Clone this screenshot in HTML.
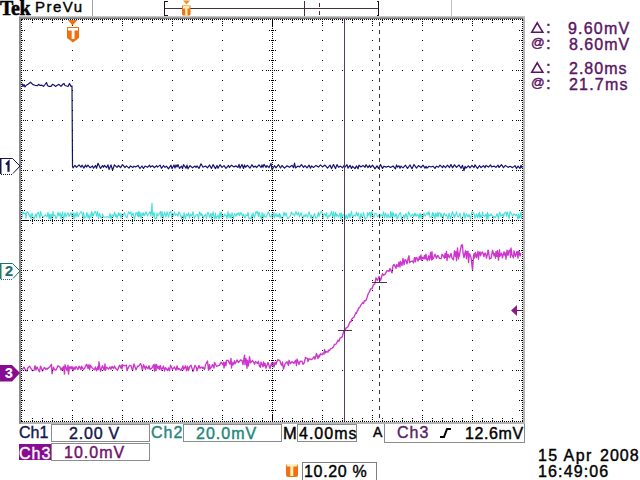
<!DOCTYPE html>
<html><head><meta charset="utf-8"><style>
*{margin:0;padding:0;box-sizing:border-box}
html,body{width:640px;height:480px;background:#fff;overflow:hidden}
body{position:relative;font-family:"Liberation Sans",sans-serif}
svg{position:absolute;left:0;top:0}
.t{position:absolute;white-space:pre;line-height:1;font-weight:normal;-webkit-text-stroke-width:0.4px}
.bx{position:absolute;border:1px solid #909090}
</style></head><body>
<svg width="640" height="480" viewBox="0 0 640 480" shape-rendering="crispEdges">
<defs>
<linearGradient id="gt" x1="0" y1="0" x2="0" y2="1"><stop offset="0" stop-color="#d8d8d8"/><stop offset="1" stop-color="#686868"/></linearGradient>
</defs>
<rect x="19" y="16" width="506" height="3" fill="url(#gt)"/>
<rect x="19" y="17" width="2" height="407" fill="#8c8c8c"/>
<rect x="523" y="17" width="2" height="406" fill="#b4b4b4"/>
<rect x="21" y="422" width="504" height="2" fill="#b4b4b4"/>
<g shape-rendering="auto" fill="none" stroke-linejoin="round">
<polyline points="22.0,218.0 22.5,212.0 23.5,212.7 24.0,213.7 25.5,213.1 26.0,218.4 27.0,211.7 28.0,212.3 29.5,216.2 30.0,214.3 31.0,218.9 32.0,213.1 33.0,216.4 34.0,219.3 35.0,215.8 36.0,214.1 36.5,217.9 37.0,214.0 38.5,212.5 40.0,218.3 40.5,211.6 42.0,215.8 43.0,217.1 44.5,215.9 45.5,214.7 47.0,217.0 48.0,212.2 49.0,218.9 49.5,214.3 50.5,219.1 51.0,213.9 52.0,218.7 53.0,211.4 53.5,216.0 55.0,215.0 56.0,218.8 57.5,214.6 58.0,212.1 59.0,216.2 60.0,212.8 60.5,214.5 61.0,218.8 62.5,211.7 63.5,219.3 65.0,212.6 66.0,216.8 67.0,214.7 68.0,212.8 69.0,216.4 70.0,214.9 71.0,212.5 72.0,217.0 73.0,212.0 74.0,219.2 75.0,213.0 76.0,216.9 77.0,212.1 78.0,217.0 79.5,213.8 81.0,211.5 82.0,213.1 83.0,219.2 83.5,212.4 84.5,218.0 86.0,216.8 87.0,212.4 88.0,217.9 89.0,214.3 89.5,219.3 90.5,215.9 91.5,211.5 92.0,217.2 92.5,212.9 93.5,215.7 94.5,211.9 95.5,211.5 96.5,216.1 97.5,211.6 98.5,218.7 99.5,213.4 101.0,217.8 102.0,218.0 102.5,213.7 103.5,216.9 105.0,217.3 106.5,216.8 108.0,217.1 109.0,217.9 110.0,213.3 111.0,219.2 112.0,214.6 113.5,216.6 114.5,212.0 115.5,216.6 116.0,214.2 117.0,218.4 118.5,212.9 119.0,215.8 120.0,213.1 121.0,218.4 122.0,213.8 123.0,215.8 124.5,212.6 125.5,215.8 127.0,217.9 128.5,211.9 130.0,213.7 131.0,211.8 131.5,216.8 133.0,212.9 134.5,219.1 136.0,212.5 137.0,213.1 137.5,216.0 138.0,212.2 138.5,216.9 139.0,211.4 139.5,216.2 140.0,212.5 141.0,218.3 142.0,212.8 143.0,215.9 143.5,212.7 144.5,215.9 146.0,211.8 147.5,216.0 149.0,213.3 150.0,211.7 151.0,216.3 152.0,203.0 152.5,214.0 152.0,211.7 152.0,203.0 152.5,214.0 153.0,216.7 154.0,212.0 155.0,218.7 156.5,218.4 157.0,212.7 157.5,216.0 159.0,214.2 160.5,211.5 161.0,217.7 162.0,211.6 163.0,218.5 164.5,212.1 166.0,217.0 167.0,211.7 168.5,217.1 169.5,212.7 171.0,211.5 171.5,217.9 172.5,213.6 173.0,216.4 174.5,211.8 175.5,215.7 177.0,213.9 178.0,216.3 179.0,211.9 180.5,214.5 181.5,218.7 182.5,215.8 183.5,219.1 184.0,212.6 185.5,218.8 186.5,214.0 187.5,215.8 188.5,212.7 189.5,218.2 190.5,214.1 192.0,216.3 193.0,211.6 194.5,218.4 196.0,214.9 197.5,214.5 198.5,219.2 199.5,211.8 201.0,215.9 201.5,213.3 202.0,214.2 203.0,218.1 204.0,216.4 205.5,214.4 206.5,218.6 207.5,212.9 208.5,212.8 209.5,217.5 211.0,213.2 211.5,219.1 213.0,211.8 213.5,214.6 214.5,218.7 215.5,213.1 216.0,218.7 217.0,216.7 218.0,214.9 219.0,219.0 219.5,217.3 220.0,211.8 221.0,217.8 221.5,212.4 222.5,216.1 223.5,216.9 224.5,214.1 225.5,215.8 226.0,215.0 227.0,218.8 228.0,211.6 229.0,217.7 230.0,213.9 231.0,218.4 232.0,212.8 233.5,218.6 234.5,213.5 236.0,216.3 237.0,213.1 237.5,214.7 239.0,212.6 239.5,215.8 241.0,212.5 242.5,216.5 243.5,214.0 244.5,217.1 245.0,218.0 246.0,214.6 247.5,215.8 248.0,212.3 249.0,218.6 250.5,218.2 251.0,218.7 251.5,214.7 252.5,218.7 253.0,212.8 254.5,217.7 256.0,211.5 256.5,213.1 257.5,211.6 258.5,216.8 259.0,212.2 260.5,216.8 261.5,219.1 262.0,212.3 263.0,219.0 264.0,213.3 264.5,216.6 266.0,217.2 267.5,213.7 268.5,211.7 270.0,216.9 271.0,216.6 272.0,214.0 272.5,219.0 274.0,212.3 274.5,217.8 276.0,213.6 277.0,216.8 278.0,214.4 278.5,216.8 279.5,213.5 280.0,218.1 280.5,214.9 281.0,216.9 282.5,219.1 284.0,212.0 285.0,216.1 286.0,212.8 287.5,218.4 288.5,218.3 289.0,217.1 290.0,216.5 291.5,211.8 292.0,214.2 293.5,213.7 294.5,216.2 296.0,211.5 296.5,213.3 297.5,215.0 298.5,212.3 299.5,217.1 301.0,212.7 301.5,213.0 302.5,219.2 304.0,214.9 305.0,216.7 306.0,214.1 307.5,217.3 309.0,211.9 310.5,217.0 311.0,218.7 311.5,215.0 313.0,218.9 314.0,214.4 314.5,213.4 315.5,217.9 317.0,217.6 318.5,212.2 319.0,216.5 320.5,212.1 322.0,211.7 323.0,219.0 324.0,213.5 325.0,214.3 326.0,216.2 326.5,212.6 327.5,218.5 329.0,215.0 330.0,216.4 331.5,211.5 332.5,217.4 333.5,211.6 334.5,218.7 335.5,212.3 336.5,216.3 337.0,214.1 338.5,217.1 340.0,213.1 341.0,219.3 341.5,213.1 342.5,216.6 343.0,215.1 344.5,214.2 345.5,218.6 346.5,215.0 347.5,218.6 349.0,213.4 350.0,217.8 351.5,211.4 352.5,217.9 354.0,214.9 355.5,216.1 356.5,212.0 357.5,215.9 358.5,213.0 359.0,216.1 360.0,219.3 361.0,213.3 361.5,216.7 362.5,217.1 363.5,212.5 365.0,219.1 366.0,217.8 367.0,217.8 367.5,212.5 368.0,215.8 369.5,212.4 370.5,217.7 371.0,212.4 371.5,215.9 372.0,211.6 373.0,216.1 374.0,217.4 375.0,213.2 376.5,213.7 377.5,216.9 379.0,214.8 379.5,218.1 381.0,214.5 382.5,216.3 383.5,211.7 384.5,217.8 385.5,213.0 387.0,217.7 388.0,214.0 389.0,217.3 390.0,217.5 390.5,211.6 391.0,216.9 392.0,212.0 392.5,218.6 393.5,212.7 394.5,216.1 395.0,216.9 396.0,213.6 396.5,214.9 397.0,219.2 398.5,216.1 399.5,213.5 400.5,212.7 401.5,219.2 403.0,217.1 404.0,214.7 404.5,218.1 406.0,213.5 407.5,219.3 408.5,211.8 409.5,213.7 410.5,216.9 411.0,216.2 412.5,214.0 413.5,216.8 414.5,213.4 415.0,216.2 415.5,213.5 416.5,216.3 418.0,214.1 419.0,218.7 420.0,213.0 421.0,218.3 421.5,214.3 423.0,218.1 424.0,212.9 425.0,216.2 426.5,213.7 427.5,212.7 428.0,215.1 429.0,211.5 430.0,217.3 431.5,217.0 432.5,212.5 433.0,216.3 433.5,213.1 435.0,218.8 435.5,213.3 436.5,216.3 437.5,212.6 438.0,217.1 439.0,212.7 440.0,212.7 441.0,217.3 441.5,213.7 443.0,218.6 444.0,213.1 445.5,215.9 446.5,214.7 448.0,219.0 449.0,213.2 450.5,218.8 451.5,215.0 452.5,211.5 453.5,216.1 454.0,214.5 454.5,217.3 456.0,213.7 456.5,211.8 457.5,216.2 458.5,217.2 460.0,213.2 461.0,218.5 462.5,218.6 464.0,212.4 465.0,218.3 465.5,216.4 466.5,213.7 468.0,217.0 469.0,214.4 470.5,219.2 472.0,211.6 473.0,212.4 474.5,214.5 475.0,218.4 476.5,214.1 477.5,217.9 478.5,213.6 479.0,216.5 479.5,212.2 480.0,218.2 480.5,214.8 481.5,216.9 482.0,216.8 482.5,211.7 483.0,214.9 484.5,216.5 486.0,214.1 486.5,219.3 487.5,212.0 488.0,219.1 488.5,214.5 490.0,216.0 491.0,213.8 492.0,216.1 493.0,215.8 493.5,217.9 494.5,216.7 495.5,217.6 497.0,213.6 498.5,219.2 499.0,213.5 500.0,212.2 500.5,216.3 501.5,214.9 502.0,215.9 503.0,214.0 503.5,217.3 504.5,213.1 506.0,212.0 506.5,216.4 507.5,212.0 509.0,219.0 510.0,211.6 511.5,213.6 512.5,216.2 514.0,213.8 515.5,215.7 516.5,214.2 518.0,219.1 518.5,214.0 519.5,218.1 521.0,211.9 521.5,219.0" stroke="#48e0dc" stroke-width="1.1"/>
<polyline points="22.0,83.5 23.0,86.5 24.0,84.5 25.0,87.0 26.0,85.5 28.0,84.3 30.5,82.2 33.0,84.6 35.0,85.3 37.5,85.7 38.5,84.3 40.0,85.4 42.0,85.2 43.5,86.4 45.0,84.5 46.5,82.5 47.5,85.5 49.0,86.4 51.0,86.4 52.5,84.3 54.0,85.0 55.5,86.4 57.3,85.2 59.0,84.3 61.0,86.4 63.0,84.0 64.0,83.5 65.0,85.5 66.5,86.0 68.0,86.4 69.5,83.5 71.0,86.4 72.0,86.0 72.5,166.0 73.0,167.8 75.0,165.4 76.5,167.3 79.0,164.8 81.0,167.2 82.0,165.2 84.0,168.1 85.5,165.1 86.5,167.0 88.0,165.2 90.0,167.7 92.5,165.9 93.5,168.2 95.5,165.5 96.5,168.2 98.0,163.3 100.5,168.4 102.5,165.6 103.5,167.3 104.5,165.4 106.5,167.7 108.0,164.8 109.0,169.5 111.0,164.9 112.5,170.2 114.5,164.8 117.0,167.3 118.5,165.5 120.5,167.7 122.5,164.7 125.0,167.5 126.5,165.9 129.0,168.1 130.5,165.9 133.0,167.5 134.0,166.2 135.5,166.9 138.0,165.4 140.0,168.5 142.0,166.0 143.5,168.5 145.0,166.0 147.5,167.3 149.5,165.2 150.5,167.1 152.5,165.8 154.5,167.7 156.5,165.7 157.5,167.1 160.0,165.1 161.5,168.3 163.5,165.5 165.0,167.4 166.5,166.1 168.5,168.8 171.0,165.2 172.0,168.7 174.0,165.0 175.0,168.0 176.0,164.9 177.0,167.0 178.0,164.6 179.5,168.4 181.5,166.1 182.5,168.6 183.5,164.7 186.0,168.2 187.0,165.1 188.0,168.8 190.0,165.6 192.5,167.8 195.0,166.1 196.0,167.5 197.0,165.9 199.0,168.4 201.0,163.8 203.0,167.2 205.5,166.0 207.5,167.8 209.5,165.0 211.5,168.4 213.0,164.6 215.5,168.6 217.0,165.4 218.0,168.3 220.0,164.7 222.0,167.4 224.0,165.6 226.0,168.3 228.5,165.4 229.5,167.4 231.5,165.2 234.0,166.9 236.0,165.9 238.0,167.4 239.0,164.4 240.0,168.1 242.0,164.5 243.5,168.5 244.5,164.9 245.5,167.2 247.5,165.3 250.0,168.1 252.0,164.7 253.5,167.1 255.5,166.1 256.5,167.6 259.0,164.8 261.0,167.5 262.0,164.9 263.0,167.3 264.0,164.4 266.0,167.4 267.0,165.6 269.0,167.5 271.0,163.4 272.0,169.7 274.5,165.7 276.0,167.8 278.5,164.7 280.5,168.0 282.0,165.5 284.5,168.1 287.0,165.8 289.5,167.3 292.0,165.3 293.5,167.7 294.5,163.2 295.5,167.9 298.0,166.1 299.5,167.0 301.5,164.6 303.5,167.4 305.0,165.7 307.0,167.9 309.0,165.1 310.5,168.2 311.5,165.9 313.5,167.5 316.0,165.4 318.5,167.1 320.5,164.9 322.5,166.9 325.0,165.1 327.5,168.1 330.0,165.1 331.5,168.6 333.5,164.6 335.5,168.6 337.0,164.6 338.5,167.2 340.5,166.1 342.5,167.9 344.0,165.5 345.0,167.1 347.0,164.6 348.0,168.2 350.0,165.3 351.5,168.4 352.5,166.2 355.0,168.6 356.5,165.9 358.0,168.8 359.0,165.2 361.0,167.0 363.0,165.4 365.0,167.3 366.0,164.7 368.0,167.6 369.5,165.2 370.5,167.5 372.5,165.2 375.0,168.8 377.0,165.8 378.5,168.4 380.5,164.6 382.5,168.4 384.0,166.2 386.0,167.1 388.5,166.2 390.5,167.5 393.0,166.0 395.5,168.8 396.5,164.9 397.5,167.1 399.0,165.8 400.0,168.3 401.0,166.1 403.0,167.9 405.5,165.2 407.5,168.4 410.0,165.0 412.0,168.7 414.0,164.5 416.5,168.1 418.5,165.5 421.0,167.5 423.0,165.1 425.0,168.2 426.0,166.3 427.0,168.1 429.0,166.2 431.0,167.0 433.0,166.2 435.0,168.3 436.5,166.2 438.5,167.2 440.0,165.2 442.5,167.7 443.5,165.6 445.5,167.7 447.5,165.2 449.5,167.6 451.0,164.5 452.5,167.8 454.5,164.8 456.5,167.4 459.0,165.0 461.0,168.3 462.5,165.3 464.0,170.6 465.0,166.3 466.0,168.1 468.5,165.8 470.0,167.9 472.0,165.4 474.0,167.6 475.0,164.8 477.5,168.5 479.5,165.5 481.0,167.6 483.5,165.7 485.0,167.7 486.0,165.4 488.5,167.1 490.5,164.8 491.5,167.0 494.0,166.1 496.0,167.4 498.0,165.1 499.0,167.5 501.5,164.6 503.5,167.7 505.5,165.4 508.0,167.4 510.0,166.3 512.5,167.6 515.0,165.6 516.5,168.5 518.0,166.1 520.0,168.4 521.0,165.3 522.0,168.1" stroke="#141470" stroke-width="1.2"/>
<polyline points="22.0,370.1 24.0,367.1 25.5,370.1 27.0,371.0 28.0,367.8 29.5,366.1 31.5,369.3 32.5,370.7 34.0,370.4 35.0,365.6 36.0,370.0 37.0,367.0 39.0,371.0 39.5,371.8 40.5,366.1 42.5,370.9 44.5,367.4 46.0,369.2 47.0,368.2 47.5,369.1 49.5,367.1 51.5,364.4 52.0,373.8 53.5,367.2 54.5,369.8 56.0,370.0 58.0,365.8 60.0,367.1 61.0,370.1 62.0,367.9 62.5,369.9 63.5,366.4 64.5,374.0 65.0,364.8 67.0,370.5 68.0,365.1 68.5,374.1 69.5,366.8 70.5,366.8 71.0,368.9 72.0,366.4 73.0,370.9 74.0,367.0 75.0,369.5 76.0,366.6 78.0,369.5 79.0,366.2 81.0,369.7 81.5,366.1 83.5,369.7 84.5,368.4 86.5,364.4 87.0,364.8 88.0,368.4 89.0,364.6 89.5,369.8 90.5,365.3 92.5,368.5 94.5,369.7 95.5,367.0 96.5,370.7 97.0,369.7 98.0,366.5 98.5,369.6 99.0,361.8 100.5,371.2 102.5,365.7 104.0,370.1 105.0,364.0 105.5,370.3 106.5,367.1 108.5,369.1 110.0,367.0 111.0,369.2 112.0,366.4 113.5,368.5 114.5,365.9 115.5,368.2 117.5,370.3 119.5,365.3 121.0,368.1 121.5,365.1 122.0,368.8 122.5,364.8 124.5,365.9 126.5,365.2 127.0,370.6 129.0,366.2 130.0,365.3 131.0,365.6 132.5,370.6 134.0,364.0 136.0,369.9 137.5,366.2 138.5,366.4 140.5,363.6 141.5,365.8 142.5,370.5 143.5,364.6 145.5,369.5 146.0,366.1 148.0,368.9 149.0,365.7 150.0,369.4 152.0,368.0 153.5,364.8 154.5,371.0 155.0,364.3 156.0,370.7 156.5,364.5 157.5,366.9 158.0,368.6 159.0,366.1 159.5,369.4 160.5,365.6 161.5,370.2 163.0,367.4 163.5,366.1 164.5,371.0 165.5,367.6 167.5,370.5 168.5,367.9 169.5,370.9 170.5,365.3 172.5,369.4 174.5,367.0 176.0,370.2 177.0,366.0 178.0,369.6 179.0,368.5 181.0,370.4 183.0,365.8 183.5,369.6 185.5,365.8 186.5,370.8 187.5,366.3 188.5,370.6 189.5,366.9 191.0,365.1 193.0,371.5 195.0,365.5 196.5,367.6 197.0,370.8 199.0,365.5 200.0,368.3 201.5,367.0 202.5,368.4 203.0,367.2 204.5,369.6 205.5,364.8 207.5,361.0 208.5,370.2 209.5,364.6 210.0,369.2 211.0,367.6 212.5,364.6 214.0,368.1 214.5,362.4 216.5,366.3 217.5,365.8 219.5,365.4 221.0,362.2 223.0,364.8 223.5,362.1 224.0,367.9 225.0,362.5 226.0,365.8 226.5,360.4 228.0,360.3 230.0,364.1 231.0,358.4 231.5,368.0 232.0,362.2 233.0,365.0 234.5,360.8 235.0,363.8 236.5,361.3 237.0,359.9 238.5,362.6 240.5,360.0 242.0,360.5 243.0,364.6 244.5,355.2 245.0,364.7 245.5,360.3 246.0,358.5 247.0,368.3 247.5,360.3 248.5,365.9 249.5,356.6 250.5,362.9 252.5,360.5 254.0,362.9 254.5,364.3 255.5,361.5 257.5,363.4 258.5,361.3 259.5,366.3 260.5,367.2 261.0,362.1 263.0,366.7 263.5,362.0 264.0,365.9 265.0,363.3 266.0,368.2 268.0,362.4 270.0,368.5 271.5,362.9 272.0,365.6 273.0,362.5 274.0,367.0 275.0,362.2 276.0,364.5 276.5,362.7 277.5,360.0 278.5,359.9 280.0,360.9 281.0,364.2 282.0,365.6 282.5,362.0 283.5,369.1 285.0,364.0 287.0,361.8 288.5,365.4 289.0,360.3 290.5,363.7 292.0,361.6 294.0,363.4 295.5,360.3 296.5,365.7 297.0,359.1 299.0,364.5 300.0,361.5 302.0,361.1 303.0,364.4 304.0,363.3 305.5,357.5 307.5,358.6 308.0,361.6 309.0,358.7 311.0,359.6 312.5,358.8 314.0,356.6 315.0,359.2 316.5,353.5 318.0,358.5 319.0,355.1 319.5,356.9 320.5,353.7 322.0,354.8 323.0,353.0 324.0,354.1 324.5,349.4 325.5,352.8 326.5,351.5 328.0,352.2 328.5,350.1 329.5,350.5 330.5,348.8 332.0,348.3 333.5,346.7 334.5,344.3 336.0,344.2 338.0,340.2 339.0,341.2 340.0,338.1 342.0,337.1 342.5,335.7 344.0,330.5 345.0,330.8 346.0,328.1 348.0,326.7 350.0,321.8 351.0,321.9 351.5,319.5 352.5,318.3 354.0,317.1 356.0,312.6 356.5,313.2 357.5,310.3 358.0,310.1 358.5,308.1 359.5,307.7 361.0,304.8 363.0,302.3 363.5,303.6 364.5,300.6 365.5,300.9 366.5,299.4 368.0,294.3 370.0,290.6 370.5,288.8 372.0,288.8 373.5,284.6 374.5,284.2 375.0,282.9 376.0,277.8 377.5,280.5 379.0,276.5 380.5,280.5 382.5,273.7 383.5,275.2 385.0,274.4 387.0,270.6 389.0,271.4 390.0,268.5 392.0,272.9 393.0,265.7 394.0,264.4 396.0,268.3 396.5,264.8 397.0,264.9 398.0,266.8 399.0,262.2 400.0,267.0 400.5,261.3 402.0,265.5 403.0,258.4 404.0,264.9 405.0,259.6 406.0,260.3 406.5,262.4 407.0,263.8 408.0,258.9 409.0,255.8 409.5,262.7 411.0,261.3 412.5,261.1 413.5,263.0 414.5,257.5 415.5,261.9 416.0,257.6 417.0,258.0 418.0,261.1 419.5,256.5 420.0,259.3 421.0,255.0 421.5,260.3 422.5,257.3 423.5,258.9 424.5,255.5 425.0,259.0 426.0,254.1 426.5,258.7 427.5,260.6 428.5,255.9 429.5,260.0 430.5,252.5 431.5,259.8 432.0,251.6 432.5,259.4 433.5,258.3 434.5,255.4 435.0,254.2 436.5,258.4 437.5,255.5 438.0,255.6 439.5,258.4 441.0,258.6 441.5,257.9 442.0,254.3 443.0,255.3 444.5,258.3 445.0,253.7 445.5,257.4 446.5,251.4 447.0,260.5 448.0,254.4 449.5,257.7 451.0,253.4 452.0,258.1 453.5,259.8 454.5,250.8 455.5,256.3 456.0,251.7 456.5,260.7 457.5,248.0 458.5,258.9 459.0,253.3 459.5,256.0 460.0,251.5 461.5,245.0 462.5,245.0 463.0,253.0 464.0,257.7 465.5,250.6 466.5,258.6 467.0,251.7 468.0,251.3 468.5,262.5 469.5,253.6 471.0,257.2 472.5,270.0 473.5,256.7 474.0,253.7 474.5,257.9 475.5,252.3 476.5,257.7 478.0,251.3 478.5,259.2 479.0,253.7 480.0,251.9 480.5,255.8 481.5,252.9 482.5,251.9 484.0,256.7 484.5,253.3 485.5,253.2 486.5,258.2 487.5,254.1 488.0,250.2 488.5,250.8 489.5,259.0 491.0,258.2 492.5,250.3 494.0,255.7 494.5,253.5 495.5,258.2 496.0,251.4 497.0,256.3 497.5,250.7 498.5,260.1 499.5,249.8 500.0,256.3 501.5,253.1 502.5,257.8 504.0,251.8 505.0,255.5 505.5,253.1 506.0,259.2 507.0,250.2 508.0,255.4 509.0,250.7 510.0,250.1 510.5,257.4 511.0,248.0 512.0,254.8 512.5,256.0 513.5,257.8 514.0,250.8 515.5,256.4 517.0,251.5 518.0,258.1 518.5,251.3 519.0,251.4 520.0,255.9 521.0,253.3" stroke="#cc36cc" stroke-width="1.35"/>
</g>
<path d="M21 19h2v1h-2zM24 19h1v1h-1zM26 19h1v1h-1zM28 19h1v1h-1zM30 19h1v1h-1zM32 19h1v1h-1zM34 19h1v1h-1zM36 19h1v1h-1zM38 19h1v1h-1zM40 19h1v1h-1zM42 19h1v1h-1zM44 19h1v1h-1zM46 19h1v1h-1zM48 19h1v1h-1zM50 19h1v1h-1zM52 19h1v1h-1zM54 19h1v1h-1zM56 19h1v1h-1zM58 19h1v1h-1zM60 19h1v1h-1zM62 19h1v1h-1zM64 19h1v1h-1zM66 19h1v1h-1zM68 19h1v1h-1zM70 19h1v1h-1zM72 19h1v1h-1zM74 19h1v1h-1zM76 19h1v1h-1zM78 19h1v1h-1zM80 19h1v1h-1zM82 19h1v1h-1zM84 19h1v1h-1zM86 19h1v1h-1zM88 19h1v1h-1zM90 19h1v1h-1zM92 19h1v1h-1zM94 19h1v1h-1zM96 19h1v1h-1zM98 19h1v1h-1zM100 19h1v1h-1zM102 19h1v1h-1zM104 19h1v1h-1zM106 19h1v1h-1zM108 19h1v1h-1zM110 19h1v1h-1zM112 19h1v1h-1zM114 19h1v1h-1zM116 19h1v1h-1zM118 19h1v1h-1zM120 19h1v1h-1zM122 19h1v1h-1zM124 19h1v1h-1zM126 19h1v1h-1zM128 19h1v1h-1zM130 19h1v1h-1zM132 19h1v1h-1zM134 19h1v1h-1zM136 19h1v1h-1zM138 19h1v1h-1zM140 19h1v1h-1zM142 19h1v1h-1zM144 19h1v1h-1zM146 19h1v1h-1zM148 19h1v1h-1zM150 19h1v1h-1zM152 19h1v1h-1zM154 19h1v1h-1zM156 19h1v1h-1zM158 19h1v1h-1zM160 19h1v1h-1zM162 19h1v1h-1zM164 19h1v1h-1zM166 19h1v1h-1zM168 19h1v1h-1zM170 19h1v1h-1zM172 19h1v1h-1zM174 19h1v1h-1zM176 19h1v1h-1zM178 19h1v1h-1zM180 19h1v1h-1zM182 19h1v1h-1zM184 19h1v1h-1zM186 19h1v1h-1zM188 19h1v1h-1zM190 19h1v1h-1zM192 19h1v1h-1zM194 19h1v1h-1zM196 19h1v1h-1zM198 19h1v1h-1zM200 19h1v1h-1zM202 19h1v1h-1zM204 19h1v1h-1zM206 19h1v1h-1zM208 19h1v1h-1zM210 19h1v1h-1zM212 19h1v1h-1zM214 19h1v1h-1zM216 19h1v1h-1zM218 19h1v1h-1zM220 19h1v1h-1zM222 19h1v1h-1zM224 19h1v1h-1zM226 19h1v1h-1zM228 19h1v1h-1zM230 19h1v1h-1zM232 19h1v1h-1zM234 19h1v1h-1zM236 19h1v1h-1zM238 19h1v1h-1zM240 19h1v1h-1zM242 19h1v1h-1zM244 19h1v1h-1zM246 19h1v1h-1zM248 19h1v1h-1zM250 19h1v1h-1zM252 19h1v1h-1zM254 19h1v1h-1zM256 19h1v1h-1zM258 19h1v1h-1zM260 19h1v1h-1zM262 19h1v1h-1zM264 19h1v1h-1zM266 19h1v1h-1zM268 19h1v1h-1zM270 19h1v1h-1zM272 19h1v1h-1zM274 19h1v1h-1zM276 19h1v1h-1zM278 19h1v1h-1zM280 19h1v1h-1zM282 19h1v1h-1zM284 19h1v1h-1zM286 19h1v1h-1zM288 19h1v1h-1zM290 19h1v1h-1zM292 19h1v1h-1zM294 19h1v1h-1zM296 19h1v1h-1zM298 19h1v1h-1zM300 19h1v1h-1zM302 19h1v1h-1zM304 19h1v1h-1zM306 19h1v1h-1zM308 19h1v1h-1zM310 19h1v1h-1zM312 19h1v1h-1zM314 19h1v1h-1zM316 19h1v1h-1zM318 19h1v1h-1zM320 19h1v1h-1zM322 19h1v1h-1zM324 19h1v1h-1zM326 19h1v1h-1zM328 19h1v1h-1zM330 19h1v1h-1zM332 19h1v1h-1zM334 19h1v1h-1zM336 19h1v1h-1zM338 19h1v1h-1zM340 19h1v1h-1zM342 19h1v1h-1zM344 19h1v1h-1zM346 19h1v1h-1zM348 19h1v1h-1zM350 19h1v1h-1zM352 19h1v1h-1zM354 19h1v1h-1zM356 19h1v1h-1zM358 19h1v1h-1zM360 19h1v1h-1zM362 19h1v1h-1zM364 19h1v1h-1zM366 19h1v1h-1zM368 19h1v1h-1zM370 19h1v1h-1zM372 19h1v1h-1zM374 19h1v1h-1zM376 19h1v1h-1zM378 19h1v1h-1zM380 19h1v1h-1zM382 19h1v1h-1zM384 19h1v1h-1zM386 19h1v1h-1zM388 19h1v1h-1zM390 19h1v1h-1zM392 19h1v1h-1zM394 19h1v1h-1zM396 19h1v1h-1zM398 19h1v1h-1zM400 19h1v1h-1zM402 19h1v1h-1zM404 19h1v1h-1zM406 19h1v1h-1zM408 19h1v1h-1zM410 19h1v1h-1zM412 19h1v1h-1zM414 19h1v1h-1zM416 19h1v1h-1zM418 19h1v1h-1zM420 19h1v1h-1zM422 19h1v1h-1zM424 19h1v1h-1zM426 19h1v1h-1zM428 19h1v1h-1zM430 19h1v1h-1zM432 19h1v1h-1zM434 19h1v1h-1zM436 19h1v1h-1zM438 19h1v1h-1zM440 19h1v1h-1zM442 19h1v1h-1zM444 19h1v1h-1zM446 19h1v1h-1zM448 19h1v1h-1zM450 19h1v1h-1zM452 19h1v1h-1zM454 19h1v1h-1zM456 19h1v1h-1zM458 19h1v1h-1zM460 19h1v1h-1zM462 19h1v1h-1zM464 19h1v1h-1zM466 19h1v1h-1zM468 19h1v1h-1zM470 19h1v1h-1zM472 19h1v1h-1zM474 19h1v1h-1zM476 19h1v1h-1zM478 19h1v1h-1zM480 19h1v1h-1zM482 19h1v1h-1zM484 19h1v1h-1zM486 19h1v1h-1zM488 19h1v1h-1zM490 19h1v1h-1zM492 19h1v1h-1zM494 19h1v1h-1zM496 19h1v1h-1zM498 19h1v1h-1zM500 19h1v1h-1zM502 19h1v1h-1zM504 19h1v1h-1zM506 19h1v1h-1zM508 19h1v1h-1zM510 19h1v1h-1zM512 19h1v1h-1zM514 19h1v1h-1zM516 19h1v1h-1zM518 19h1v1h-1zM520 19h1v1h-1zM522 19h1v1h-1zM21 20h1v1h-1zM32 20h1v1h-1zM42 20h1v1h-1zM52 20h1v1h-1zM62 20h1v1h-1zM82 20h1v1h-1zM92 20h1v1h-1zM102 20h1v1h-1zM112 20h1v1h-1zM132 20h1v1h-1zM142 20h1v1h-1zM152 20h1v1h-1zM162 20h1v1h-1zM182 20h1v1h-1zM192 20h1v1h-1zM202 20h1v1h-1zM212 20h1v1h-1zM232 20h1v1h-1zM242 20h1v1h-1zM252 20h1v1h-1zM262 20h1v1h-1zM272 20h1v1h-1zM282 20h1v1h-1zM292 20h1v1h-1zM302 20h1v1h-1zM312 20h1v1h-1zM332 20h1v1h-1zM342 20h1v1h-1zM352 20h1v1h-1zM362 20h1v1h-1zM382 20h1v1h-1zM392 20h1v1h-1zM402 20h1v1h-1zM412 20h1v1h-1zM432 20h1v1h-1zM442 20h1v1h-1zM452 20h1v1h-1zM462 20h1v1h-1zM482 20h1v1h-1zM492 20h1v1h-1zM502 20h1v1h-1zM512 20h1v1h-1zM522 20h1v1h-1zM72 21h1v1h-1zM122 21h1v1h-1zM172 21h1v1h-1zM222 21h1v1h-1zM272 21h1v1h-1zM322 21h1v1h-1zM372 21h1v1h-1zM422 21h1v1h-1zM472 21h1v1h-1zM21 22h1v1h-1zM32 22h1v1h-1zM42 22h1v1h-1zM52 22h1v1h-1zM62 22h1v1h-1zM82 22h1v1h-1zM92 22h1v1h-1zM102 22h1v1h-1zM112 22h1v1h-1zM132 22h1v1h-1zM142 22h1v1h-1zM152 22h1v1h-1zM162 22h1v1h-1zM182 22h1v1h-1zM192 22h1v1h-1zM202 22h1v1h-1zM212 22h1v1h-1zM232 22h1v1h-1zM242 22h1v1h-1zM252 22h1v1h-1zM262 22h1v1h-1zM272 22h1v1h-1zM282 22h1v1h-1zM292 22h1v1h-1zM302 22h1v1h-1zM312 22h1v1h-1zM332 22h1v1h-1zM342 22h1v1h-1zM352 22h1v1h-1zM362 22h1v1h-1zM382 22h1v1h-1zM392 22h1v1h-1zM402 22h1v1h-1zM412 22h1v1h-1zM432 22h1v1h-1zM442 22h1v1h-1zM452 22h1v1h-1zM462 22h1v1h-1zM482 22h1v1h-1zM492 22h1v1h-1zM502 22h1v1h-1zM512 22h1v1h-1zM522 22h1v1h-1zM72 23h1v1h-1zM122 23h1v1h-1zM172 23h1v1h-1zM222 23h1v1h-1zM272 23h1v1h-1zM322 23h1v1h-1zM372 23h1v1h-1zM422 23h1v1h-1zM472 23h1v1h-1zM21 24h1v1h-1zM272 24h1v1h-1zM522 24h1v1h-1zM72 25h1v1h-1zM122 25h1v1h-1zM172 25h1v1h-1zM222 25h1v1h-1zM272 25h1v1h-1zM322 25h1v1h-1zM372 25h1v1h-1zM422 25h1v1h-1zM472 25h1v1h-1zM21 26h1v1h-1zM272 26h1v1h-1zM522 26h1v1h-1zM21 28h1v1h-1zM272 28h1v1h-1zM522 28h1v1h-1zM21 30h2v1h-2zM24 30h1v1h-1zM72 30h1v1h-1zM122 30h1v1h-1zM172 30h1v1h-1zM222 30h1v1h-1zM269 30h1v1h-1zM271 30h3v1h-3zM275 30h1v1h-1zM322 30h1v1h-1zM372 30h1v1h-1zM422 30h1v1h-1zM472 30h1v1h-1zM519 30h1v1h-1zM521 30h2v1h-2zM21 32h1v1h-1zM272 32h1v1h-1zM522 32h1v1h-1zM21 34h1v1h-1zM272 34h1v1h-1zM522 34h1v1h-1zM21 36h1v1h-1zM272 36h1v1h-1zM522 36h1v1h-1zM21 38h1v1h-1zM272 38h1v1h-1zM522 38h1v1h-1zM21 40h2v1h-2zM24 40h1v1h-1zM72 40h1v1h-1zM122 40h1v1h-1zM172 40h1v1h-1zM222 40h1v1h-1zM269 40h1v1h-1zM271 40h3v1h-3zM275 40h1v1h-1zM322 40h1v1h-1zM372 40h1v1h-1zM422 40h1v1h-1zM472 40h1v1h-1zM519 40h1v1h-1zM521 40h2v1h-2zM21 42h1v1h-1zM272 42h1v1h-1zM522 42h1v1h-1zM21 44h1v1h-1zM272 44h1v1h-1zM522 44h1v1h-1zM21 46h1v1h-1zM272 46h1v1h-1zM522 46h1v1h-1zM21 48h1v1h-1zM272 48h1v1h-1zM522 48h1v1h-1zM21 50h2v1h-2zM24 50h1v1h-1zM72 50h1v1h-1zM122 50h1v1h-1zM172 50h1v1h-1zM222 50h1v1h-1zM269 50h1v1h-1zM271 50h3v1h-3zM275 50h1v1h-1zM322 50h1v1h-1zM372 50h1v1h-1zM422 50h1v1h-1zM472 50h1v1h-1zM519 50h1v1h-1zM521 50h2v1h-2zM21 52h1v1h-1zM272 52h1v1h-1zM522 52h1v1h-1zM21 54h1v1h-1zM272 54h1v1h-1zM522 54h1v1h-1zM21 56h1v1h-1zM272 56h1v1h-1zM522 56h1v1h-1zM21 58h1v1h-1zM272 58h1v1h-1zM522 58h1v1h-1zM21 60h2v1h-2zM24 60h1v1h-1zM72 60h1v1h-1zM122 60h1v1h-1zM172 60h1v1h-1zM222 60h1v1h-1zM269 60h1v1h-1zM271 60h3v1h-3zM275 60h1v1h-1zM322 60h1v1h-1zM372 60h1v1h-1zM422 60h1v1h-1zM472 60h1v1h-1zM519 60h1v1h-1zM521 60h2v1h-2zM21 62h1v1h-1zM272 62h1v1h-1zM522 62h1v1h-1zM21 64h1v1h-1zM272 64h1v1h-1zM522 64h1v1h-1zM21 66h1v1h-1zM272 66h1v1h-1zM522 66h1v1h-1zM21 68h1v1h-1zM272 68h1v1h-1zM522 68h1v1h-1zM21 70h1v1h-1zM23 70h1v1h-1zM25 70h1v1h-1zM27 70h1v1h-1zM32 70h1v1h-1zM42 70h1v1h-1zM52 70h1v1h-1zM62 70h1v1h-1zM72 70h1v1h-1zM82 70h1v1h-1zM92 70h1v1h-1zM102 70h1v1h-1zM112 70h1v1h-1zM122 70h1v1h-1zM132 70h1v1h-1zM142 70h1v1h-1zM152 70h1v1h-1zM162 70h1v1h-1zM172 70h1v1h-1zM182 70h1v1h-1zM192 70h1v1h-1zM202 70h1v1h-1zM212 70h1v1h-1zM222 70h1v1h-1zM232 70h1v1h-1zM242 70h1v1h-1zM252 70h1v1h-1zM262 70h1v1h-1zM266 70h1v1h-1zM268 70h1v1h-1zM270 70h1v1h-1zM272 70h1v1h-1zM274 70h1v1h-1zM276 70h1v1h-1zM278 70h1v1h-1zM282 70h1v1h-1zM292 70h1v1h-1zM302 70h1v1h-1zM312 70h1v1h-1zM322 70h1v1h-1zM332 70h1v1h-1zM342 70h1v1h-1zM352 70h1v1h-1zM362 70h1v1h-1zM372 70h1v1h-1zM382 70h1v1h-1zM392 70h1v1h-1zM402 70h1v1h-1zM412 70h1v1h-1zM422 70h1v1h-1zM432 70h1v1h-1zM442 70h1v1h-1zM452 70h1v1h-1zM462 70h1v1h-1zM472 70h1v1h-1zM482 70h1v1h-1zM492 70h1v1h-1zM502 70h1v1h-1zM512 70h1v1h-1zM516 70h1v1h-1zM518 70h1v1h-1zM520 70h1v1h-1zM522 70h1v1h-1zM21 72h1v1h-1zM272 72h1v1h-1zM522 72h1v1h-1zM21 74h1v1h-1zM272 74h1v1h-1zM522 74h1v1h-1zM21 76h1v1h-1zM272 76h1v1h-1zM522 76h1v1h-1zM21 78h1v1h-1zM272 78h1v1h-1zM522 78h1v1h-1zM21 80h2v1h-2zM24 80h1v1h-1zM72 80h1v1h-1zM122 80h1v1h-1zM172 80h1v1h-1zM222 80h1v1h-1zM269 80h1v1h-1zM271 80h3v1h-3zM275 80h1v1h-1zM322 80h1v1h-1zM372 80h1v1h-1zM422 80h1v1h-1zM472 80h1v1h-1zM519 80h1v1h-1zM521 80h2v1h-2zM21 82h1v1h-1zM272 82h1v1h-1zM522 82h1v1h-1zM21 84h1v1h-1zM272 84h1v1h-1zM522 84h1v1h-1zM21 86h1v1h-1zM272 86h1v1h-1zM522 86h1v1h-1zM21 88h1v1h-1zM272 88h1v1h-1zM522 88h1v1h-1zM21 90h2v1h-2zM24 90h1v1h-1zM72 90h1v1h-1zM122 90h1v1h-1zM172 90h1v1h-1zM222 90h1v1h-1zM269 90h1v1h-1zM271 90h3v1h-3zM275 90h1v1h-1zM322 90h1v1h-1zM372 90h1v1h-1zM422 90h1v1h-1zM472 90h1v1h-1zM519 90h1v1h-1zM521 90h2v1h-2zM21 92h1v1h-1zM272 92h1v1h-1zM522 92h1v1h-1zM21 94h1v1h-1zM272 94h1v1h-1zM522 94h1v1h-1zM21 96h1v1h-1zM272 96h1v1h-1zM522 96h1v1h-1zM21 98h1v1h-1zM272 98h1v1h-1zM522 98h1v1h-1zM21 100h2v1h-2zM24 100h1v1h-1zM72 100h1v1h-1zM122 100h1v1h-1zM172 100h1v1h-1zM222 100h1v1h-1zM269 100h1v1h-1zM271 100h3v1h-3zM275 100h1v1h-1zM322 100h1v1h-1zM372 100h1v1h-1zM422 100h1v1h-1zM472 100h1v1h-1zM519 100h1v1h-1zM521 100h2v1h-2zM21 102h1v1h-1zM272 102h1v1h-1zM522 102h1v1h-1zM21 104h1v1h-1zM272 104h1v1h-1zM522 104h1v1h-1zM21 106h1v1h-1zM272 106h1v1h-1zM522 106h1v1h-1zM21 108h1v1h-1zM272 108h1v1h-1zM522 108h1v1h-1zM21 110h2v1h-2zM24 110h1v1h-1zM72 110h1v1h-1zM122 110h1v1h-1zM172 110h1v1h-1zM222 110h1v1h-1zM269 110h1v1h-1zM271 110h3v1h-3zM275 110h1v1h-1zM322 110h1v1h-1zM372 110h1v1h-1zM422 110h1v1h-1zM472 110h1v1h-1zM519 110h1v1h-1zM521 110h2v1h-2zM21 112h1v1h-1zM272 112h1v1h-1zM522 112h1v1h-1zM21 114h1v1h-1zM272 114h1v1h-1zM522 114h1v1h-1zM21 116h1v1h-1zM272 116h1v1h-1zM522 116h1v1h-1zM21 118h1v1h-1zM272 118h1v1h-1zM522 118h1v1h-1zM21 120h1v1h-1zM23 120h1v1h-1zM25 120h1v1h-1zM27 120h1v1h-1zM32 120h1v1h-1zM42 120h1v1h-1zM52 120h1v1h-1zM62 120h1v1h-1zM72 120h1v1h-1zM82 120h1v1h-1zM92 120h1v1h-1zM102 120h1v1h-1zM112 120h1v1h-1zM122 120h1v1h-1zM132 120h1v1h-1zM142 120h1v1h-1zM152 120h1v1h-1zM162 120h1v1h-1zM172 120h1v1h-1zM182 120h1v1h-1zM192 120h1v1h-1zM202 120h1v1h-1zM212 120h1v1h-1zM222 120h1v1h-1zM232 120h1v1h-1zM242 120h1v1h-1zM252 120h1v1h-1zM262 120h1v1h-1zM266 120h1v1h-1zM268 120h1v1h-1zM270 120h1v1h-1zM272 120h1v1h-1zM274 120h1v1h-1zM276 120h1v1h-1zM278 120h1v1h-1zM282 120h1v1h-1zM292 120h1v1h-1zM302 120h1v1h-1zM312 120h1v1h-1zM322 120h1v1h-1zM332 120h1v1h-1zM342 120h1v1h-1zM352 120h1v1h-1zM362 120h1v1h-1zM372 120h1v1h-1zM382 120h1v1h-1zM392 120h1v1h-1zM402 120h1v1h-1zM412 120h1v1h-1zM422 120h1v1h-1zM432 120h1v1h-1zM442 120h1v1h-1zM452 120h1v1h-1zM462 120h1v1h-1zM472 120h1v1h-1zM482 120h1v1h-1zM492 120h1v1h-1zM502 120h1v1h-1zM512 120h1v1h-1zM516 120h1v1h-1zM518 120h1v1h-1zM520 120h1v1h-1zM522 120h1v1h-1zM21 122h1v1h-1zM272 122h1v1h-1zM522 122h1v1h-1zM21 124h1v1h-1zM272 124h1v1h-1zM522 124h1v1h-1zM21 126h1v1h-1zM272 126h1v1h-1zM522 126h1v1h-1zM21 128h1v1h-1zM272 128h1v1h-1zM522 128h1v1h-1zM21 130h2v1h-2zM24 130h1v1h-1zM72 130h1v1h-1zM122 130h1v1h-1zM172 130h1v1h-1zM222 130h1v1h-1zM269 130h1v1h-1zM271 130h3v1h-3zM275 130h1v1h-1zM322 130h1v1h-1zM372 130h1v1h-1zM422 130h1v1h-1zM472 130h1v1h-1zM519 130h1v1h-1zM521 130h2v1h-2zM21 132h1v1h-1zM272 132h1v1h-1zM522 132h1v1h-1zM21 134h1v1h-1zM272 134h1v1h-1zM522 134h1v1h-1zM21 136h1v1h-1zM272 136h1v1h-1zM522 136h1v1h-1zM21 138h1v1h-1zM272 138h1v1h-1zM522 138h1v1h-1zM21 140h2v1h-2zM24 140h1v1h-1zM72 140h1v1h-1zM122 140h1v1h-1zM172 140h1v1h-1zM222 140h1v1h-1zM269 140h1v1h-1zM271 140h3v1h-3zM275 140h1v1h-1zM322 140h1v1h-1zM372 140h1v1h-1zM422 140h1v1h-1zM472 140h1v1h-1zM519 140h1v1h-1zM521 140h2v1h-2zM21 142h1v1h-1zM272 142h1v1h-1zM522 142h1v1h-1zM21 144h1v1h-1zM272 144h1v1h-1zM522 144h1v1h-1zM21 146h1v1h-1zM272 146h1v1h-1zM522 146h1v1h-1zM21 148h1v1h-1zM272 148h1v1h-1zM522 148h1v1h-1zM21 150h2v1h-2zM24 150h1v1h-1zM72 150h1v1h-1zM122 150h1v1h-1zM172 150h1v1h-1zM222 150h1v1h-1zM269 150h1v1h-1zM271 150h3v1h-3zM275 150h1v1h-1zM322 150h1v1h-1zM372 150h1v1h-1zM422 150h1v1h-1zM472 150h1v1h-1zM519 150h1v1h-1zM521 150h2v1h-2zM21 152h1v1h-1zM272 152h1v1h-1zM522 152h1v1h-1zM21 154h1v1h-1zM272 154h1v1h-1zM522 154h1v1h-1zM21 156h1v1h-1zM272 156h1v1h-1zM522 156h1v1h-1zM21 158h1v1h-1zM272 158h1v1h-1zM522 158h1v1h-1zM21 160h2v1h-2zM24 160h1v1h-1zM72 160h1v1h-1zM122 160h1v1h-1zM172 160h1v1h-1zM222 160h1v1h-1zM269 160h1v1h-1zM271 160h3v1h-3zM275 160h1v1h-1zM322 160h1v1h-1zM372 160h1v1h-1zM422 160h1v1h-1zM472 160h1v1h-1zM519 160h1v1h-1zM521 160h2v1h-2zM21 162h1v1h-1zM272 162h1v1h-1zM522 162h1v1h-1zM21 164h1v1h-1zM272 164h1v1h-1zM522 164h1v1h-1zM21 166h1v1h-1zM272 166h1v1h-1zM522 166h1v1h-1zM21 168h1v1h-1zM272 168h1v1h-1zM522 168h1v1h-1zM21 170h1v1h-1zM23 170h1v1h-1zM25 170h1v1h-1zM27 170h1v1h-1zM32 170h1v1h-1zM42 170h1v1h-1zM52 170h1v1h-1zM62 170h1v1h-1zM72 170h1v1h-1zM82 170h1v1h-1zM92 170h1v1h-1zM102 170h1v1h-1zM112 170h1v1h-1zM122 170h1v1h-1zM132 170h1v1h-1zM142 170h1v1h-1zM152 170h1v1h-1zM162 170h1v1h-1zM172 170h1v1h-1zM182 170h1v1h-1zM192 170h1v1h-1zM202 170h1v1h-1zM212 170h1v1h-1zM222 170h1v1h-1zM232 170h1v1h-1zM242 170h1v1h-1zM252 170h1v1h-1zM262 170h1v1h-1zM266 170h1v1h-1zM268 170h1v1h-1zM270 170h1v1h-1zM272 170h1v1h-1zM274 170h1v1h-1zM276 170h1v1h-1zM278 170h1v1h-1zM282 170h1v1h-1zM292 170h1v1h-1zM302 170h1v1h-1zM312 170h1v1h-1zM322 170h1v1h-1zM332 170h1v1h-1zM342 170h1v1h-1zM352 170h1v1h-1zM362 170h1v1h-1zM372 170h1v1h-1zM382 170h1v1h-1zM392 170h1v1h-1zM402 170h1v1h-1zM412 170h1v1h-1zM422 170h1v1h-1zM432 170h1v1h-1zM442 170h1v1h-1zM452 170h1v1h-1zM462 170h1v1h-1zM472 170h1v1h-1zM482 170h1v1h-1zM492 170h1v1h-1zM502 170h1v1h-1zM512 170h1v1h-1zM516 170h1v1h-1zM518 170h1v1h-1zM520 170h1v1h-1zM522 170h1v1h-1zM21 172h1v1h-1zM272 172h1v1h-1zM522 172h1v1h-1zM21 174h1v1h-1zM272 174h1v1h-1zM522 174h1v1h-1zM21 176h1v1h-1zM272 176h1v1h-1zM522 176h1v1h-1zM21 178h1v1h-1zM272 178h1v1h-1zM522 178h1v1h-1zM21 180h2v1h-2zM24 180h1v1h-1zM72 180h1v1h-1zM122 180h1v1h-1zM172 180h1v1h-1zM222 180h1v1h-1zM269 180h1v1h-1zM271 180h3v1h-3zM275 180h1v1h-1zM322 180h1v1h-1zM372 180h1v1h-1zM422 180h1v1h-1zM472 180h1v1h-1zM519 180h1v1h-1zM521 180h2v1h-2zM21 182h1v1h-1zM272 182h1v1h-1zM522 182h1v1h-1zM21 184h1v1h-1zM272 184h1v1h-1zM522 184h1v1h-1zM21 186h1v1h-1zM272 186h1v1h-1zM522 186h1v1h-1zM21 188h1v1h-1zM272 188h1v1h-1zM522 188h1v1h-1zM21 190h2v1h-2zM24 190h1v1h-1zM72 190h1v1h-1zM122 190h1v1h-1zM172 190h1v1h-1zM222 190h1v1h-1zM269 190h1v1h-1zM271 190h3v1h-3zM275 190h1v1h-1zM322 190h1v1h-1zM372 190h1v1h-1zM422 190h1v1h-1zM472 190h1v1h-1zM519 190h1v1h-1zM521 190h2v1h-2zM21 192h1v1h-1zM272 192h1v1h-1zM522 192h1v1h-1zM21 194h1v1h-1zM272 194h1v1h-1zM522 194h1v1h-1zM21 196h1v1h-1zM272 196h1v1h-1zM522 196h1v1h-1zM21 198h1v1h-1zM272 198h1v1h-1zM522 198h1v1h-1zM21 200h2v1h-2zM24 200h1v1h-1zM72 200h1v1h-1zM122 200h1v1h-1zM172 200h1v1h-1zM222 200h1v1h-1zM269 200h1v1h-1zM271 200h3v1h-3zM275 200h1v1h-1zM322 200h1v1h-1zM372 200h1v1h-1zM422 200h1v1h-1zM472 200h1v1h-1zM519 200h1v1h-1zM521 200h2v1h-2zM21 202h1v1h-1zM272 202h1v1h-1zM522 202h1v1h-1zM21 204h1v1h-1zM272 204h1v1h-1zM522 204h1v1h-1zM21 206h1v1h-1zM272 206h1v1h-1zM522 206h1v1h-1zM21 208h1v1h-1zM272 208h1v1h-1zM522 208h1v1h-1zM21 210h2v1h-2zM24 210h1v1h-1zM72 210h1v1h-1zM122 210h1v1h-1zM172 210h1v1h-1zM222 210h1v1h-1zM269 210h1v1h-1zM271 210h3v1h-3zM275 210h1v1h-1zM322 210h1v1h-1zM372 210h1v1h-1zM422 210h1v1h-1zM472 210h1v1h-1zM519 210h1v1h-1zM521 210h2v1h-2zM21 212h1v1h-1zM272 212h1v1h-1zM522 212h1v1h-1zM21 214h1v1h-1zM72 214h1v1h-1zM122 214h1v1h-1zM172 214h1v1h-1zM222 214h1v1h-1zM272 214h1v1h-1zM322 214h1v1h-1zM372 214h1v1h-1zM422 214h1v1h-1zM472 214h1v1h-1zM522 214h1v1h-1zM21 216h1v1h-1zM72 216h1v1h-1zM122 216h1v1h-1zM172 216h1v1h-1zM222 216h1v1h-1zM272 216h1v1h-1zM322 216h1v1h-1zM372 216h1v1h-1zM422 216h1v1h-1zM472 216h1v1h-1zM522 216h1v1h-1zM32 217h1v1h-1zM42 217h1v1h-1zM52 217h1v1h-1zM62 217h1v1h-1zM82 217h1v1h-1zM92 217h1v1h-1zM102 217h1v1h-1zM112 217h1v1h-1zM132 217h1v1h-1zM142 217h1v1h-1zM152 217h1v1h-1zM162 217h1v1h-1zM182 217h1v1h-1zM192 217h1v1h-1zM202 217h1v1h-1zM212 217h1v1h-1zM232 217h1v1h-1zM242 217h1v1h-1zM252 217h1v1h-1zM262 217h1v1h-1zM282 217h1v1h-1zM292 217h1v1h-1zM302 217h1v1h-1zM312 217h1v1h-1zM332 217h1v1h-1zM342 217h1v1h-1zM352 217h1v1h-1zM362 217h1v1h-1zM382 217h1v1h-1zM392 217h1v1h-1zM402 217h1v1h-1zM412 217h1v1h-1zM432 217h1v1h-1zM442 217h1v1h-1zM452 217h1v1h-1zM462 217h1v1h-1zM482 217h1v1h-1zM492 217h1v1h-1zM502 217h1v1h-1zM512 217h1v1h-1zM21 218h1v1h-1zM72 218h1v1h-1zM122 218h1v1h-1zM172 218h1v1h-1zM222 218h1v1h-1zM272 218h1v1h-1zM322 218h1v1h-1zM372 218h1v1h-1zM422 218h1v1h-1zM472 218h1v1h-1zM522 218h1v1h-1zM32 219h1v1h-1zM42 219h1v1h-1zM52 219h1v1h-1zM62 219h1v1h-1zM82 219h1v1h-1zM92 219h1v1h-1zM102 219h1v1h-1zM112 219h1v1h-1zM132 219h1v1h-1zM142 219h1v1h-1zM152 219h1v1h-1zM162 219h1v1h-1zM182 219h1v1h-1zM192 219h1v1h-1zM202 219h1v1h-1zM212 219h1v1h-1zM232 219h1v1h-1zM242 219h1v1h-1zM252 219h1v1h-1zM262 219h1v1h-1zM282 219h1v1h-1zM292 219h1v1h-1zM302 219h1v1h-1zM312 219h1v1h-1zM332 219h1v1h-1zM342 219h1v1h-1zM352 219h1v1h-1zM362 219h1v1h-1zM382 219h1v1h-1zM392 219h1v1h-1zM402 219h1v1h-1zM412 219h1v1h-1zM432 219h1v1h-1zM442 219h1v1h-1zM452 219h1v1h-1zM462 219h1v1h-1zM482 219h1v1h-1zM492 219h1v1h-1zM502 219h1v1h-1zM512 219h1v1h-1zM21 220h8v1h-8zM30 220h1v1h-1zM32 220h1v1h-1zM34 220h1v1h-1zM36 220h1v1h-1zM38 220h1v1h-1zM40 220h1v1h-1zM42 220h1v1h-1zM44 220h1v1h-1zM46 220h1v1h-1zM48 220h1v1h-1zM50 220h1v1h-1zM52 220h1v1h-1zM54 220h1v1h-1zM56 220h1v1h-1zM58 220h1v1h-1zM60 220h1v1h-1zM62 220h1v1h-1zM64 220h1v1h-1zM66 220h1v1h-1zM68 220h1v1h-1zM70 220h1v1h-1zM72 220h1v1h-1zM74 220h1v1h-1zM76 220h1v1h-1zM78 220h1v1h-1zM80 220h1v1h-1zM82 220h1v1h-1zM84 220h1v1h-1zM86 220h1v1h-1zM88 220h1v1h-1zM90 220h1v1h-1zM92 220h1v1h-1zM94 220h1v1h-1zM96 220h1v1h-1zM98 220h1v1h-1zM100 220h1v1h-1zM102 220h1v1h-1zM104 220h1v1h-1zM106 220h1v1h-1zM108 220h1v1h-1zM110 220h1v1h-1zM112 220h1v1h-1zM114 220h1v1h-1zM116 220h1v1h-1zM118 220h1v1h-1zM120 220h1v1h-1zM122 220h1v1h-1zM124 220h1v1h-1zM126 220h1v1h-1zM128 220h1v1h-1zM130 220h1v1h-1zM132 220h1v1h-1zM134 220h1v1h-1zM136 220h1v1h-1zM138 220h1v1h-1zM140 220h1v1h-1zM142 220h1v1h-1zM144 220h1v1h-1zM146 220h1v1h-1zM148 220h1v1h-1zM150 220h1v1h-1zM152 220h1v1h-1zM154 220h1v1h-1zM156 220h1v1h-1zM158 220h1v1h-1zM160 220h1v1h-1zM162 220h1v1h-1zM164 220h1v1h-1zM166 220h1v1h-1zM168 220h1v1h-1zM170 220h1v1h-1zM172 220h1v1h-1zM174 220h1v1h-1zM176 220h1v1h-1zM178 220h1v1h-1zM180 220h1v1h-1zM182 220h1v1h-1zM184 220h1v1h-1zM186 220h1v1h-1zM188 220h1v1h-1zM190 220h1v1h-1zM192 220h1v1h-1zM194 220h1v1h-1zM196 220h1v1h-1zM198 220h1v1h-1zM200 220h1v1h-1zM202 220h1v1h-1zM204 220h1v1h-1zM206 220h1v1h-1zM208 220h1v1h-1zM210 220h1v1h-1zM212 220h1v1h-1zM214 220h1v1h-1zM216 220h1v1h-1zM218 220h1v1h-1zM220 220h1v1h-1zM222 220h1v1h-1zM224 220h1v1h-1zM226 220h1v1h-1zM228 220h1v1h-1zM230 220h1v1h-1zM232 220h1v1h-1zM234 220h1v1h-1zM236 220h1v1h-1zM238 220h1v1h-1zM240 220h1v1h-1zM242 220h1v1h-1zM244 220h1v1h-1zM246 220h1v1h-1zM248 220h1v1h-1zM250 220h1v1h-1zM252 220h1v1h-1zM254 220h1v1h-1zM256 220h1v1h-1zM258 220h1v1h-1zM260 220h1v1h-1zM262 220h1v1h-1zM264 220h1v1h-1zM266 220h1v1h-1zM268 220h1v1h-1zM270 220h1v1h-1zM272 220h1v1h-1zM274 220h1v1h-1zM276 220h1v1h-1zM278 220h1v1h-1zM280 220h1v1h-1zM282 220h1v1h-1zM284 220h1v1h-1zM286 220h1v1h-1zM288 220h1v1h-1zM290 220h1v1h-1zM292 220h1v1h-1zM294 220h1v1h-1zM296 220h1v1h-1zM298 220h1v1h-1zM300 220h1v1h-1zM302 220h1v1h-1zM304 220h1v1h-1zM306 220h1v1h-1zM308 220h1v1h-1zM310 220h1v1h-1zM312 220h1v1h-1zM314 220h1v1h-1zM316 220h1v1h-1zM318 220h1v1h-1zM320 220h1v1h-1zM322 220h1v1h-1zM324 220h1v1h-1zM326 220h1v1h-1zM328 220h1v1h-1zM330 220h1v1h-1zM332 220h1v1h-1zM334 220h1v1h-1zM336 220h1v1h-1zM338 220h1v1h-1zM340 220h1v1h-1zM342 220h1v1h-1zM344 220h1v1h-1zM346 220h1v1h-1zM348 220h1v1h-1zM350 220h1v1h-1zM352 220h1v1h-1zM354 220h1v1h-1zM356 220h1v1h-1zM358 220h1v1h-1zM360 220h1v1h-1zM362 220h1v1h-1zM364 220h1v1h-1zM366 220h1v1h-1zM368 220h1v1h-1zM370 220h1v1h-1zM372 220h1v1h-1zM374 220h1v1h-1zM376 220h1v1h-1zM378 220h1v1h-1zM380 220h1v1h-1zM382 220h1v1h-1zM384 220h1v1h-1zM386 220h1v1h-1zM388 220h1v1h-1zM390 220h1v1h-1zM392 220h1v1h-1zM394 220h1v1h-1zM396 220h1v1h-1zM398 220h1v1h-1zM400 220h1v1h-1zM402 220h1v1h-1zM404 220h1v1h-1zM406 220h1v1h-1zM408 220h1v1h-1zM410 220h1v1h-1zM412 220h1v1h-1zM414 220h1v1h-1zM416 220h1v1h-1zM418 220h1v1h-1zM420 220h1v1h-1zM422 220h1v1h-1zM424 220h1v1h-1zM426 220h1v1h-1zM428 220h1v1h-1zM430 220h1v1h-1zM432 220h1v1h-1zM434 220h1v1h-1zM436 220h1v1h-1zM438 220h1v1h-1zM440 220h1v1h-1zM442 220h1v1h-1zM444 220h1v1h-1zM446 220h1v1h-1zM448 220h1v1h-1zM450 220h1v1h-1zM452 220h1v1h-1zM454 220h1v1h-1zM456 220h1v1h-1zM458 220h1v1h-1zM460 220h1v1h-1zM462 220h1v1h-1zM464 220h1v1h-1zM466 220h1v1h-1zM468 220h1v1h-1zM470 220h1v1h-1zM472 220h1v1h-1zM474 220h1v1h-1zM476 220h1v1h-1zM478 220h1v1h-1zM480 220h1v1h-1zM482 220h1v1h-1zM484 220h1v1h-1zM486 220h1v1h-1zM488 220h1v1h-1zM490 220h1v1h-1zM492 220h1v1h-1zM494 220h1v1h-1zM496 220h1v1h-1zM498 220h1v1h-1zM500 220h1v1h-1zM502 220h1v1h-1zM504 220h1v1h-1zM506 220h1v1h-1zM508 220h1v1h-1zM510 220h1v1h-1zM512 220h1v1h-1zM514 220h1v1h-1zM516 220h1v1h-1zM518 220h1v1h-1zM520 220h1v1h-1zM522 220h1v1h-1zM32 221h1v1h-1zM42 221h1v1h-1zM52 221h1v1h-1zM62 221h1v1h-1zM82 221h1v1h-1zM92 221h1v1h-1zM102 221h1v1h-1zM112 221h1v1h-1zM132 221h1v1h-1zM142 221h1v1h-1zM152 221h1v1h-1zM162 221h1v1h-1zM182 221h1v1h-1zM192 221h1v1h-1zM202 221h1v1h-1zM212 221h1v1h-1zM232 221h1v1h-1zM242 221h1v1h-1zM252 221h1v1h-1zM262 221h1v1h-1zM282 221h1v1h-1zM292 221h1v1h-1zM302 221h1v1h-1zM312 221h1v1h-1zM332 221h1v1h-1zM342 221h1v1h-1zM352 221h1v1h-1zM362 221h1v1h-1zM382 221h1v1h-1zM392 221h1v1h-1zM402 221h1v1h-1zM412 221h1v1h-1zM432 221h1v1h-1zM442 221h1v1h-1zM452 221h1v1h-1zM462 221h1v1h-1zM482 221h1v1h-1zM492 221h1v1h-1zM502 221h1v1h-1zM512 221h1v1h-1zM21 222h1v1h-1zM72 222h1v1h-1zM122 222h1v1h-1zM172 222h1v1h-1zM222 222h1v1h-1zM272 222h1v1h-1zM322 222h1v1h-1zM372 222h1v1h-1zM422 222h1v1h-1zM472 222h1v1h-1zM522 222h1v1h-1zM32 223h1v1h-1zM42 223h1v1h-1zM52 223h1v1h-1zM62 223h1v1h-1zM82 223h1v1h-1zM92 223h1v1h-1zM102 223h1v1h-1zM112 223h1v1h-1zM132 223h1v1h-1zM142 223h1v1h-1zM152 223h1v1h-1zM162 223h1v1h-1zM182 223h1v1h-1zM192 223h1v1h-1zM202 223h1v1h-1zM212 223h1v1h-1zM232 223h1v1h-1zM242 223h1v1h-1zM252 223h1v1h-1zM262 223h1v1h-1zM282 223h1v1h-1zM292 223h1v1h-1zM302 223h1v1h-1zM312 223h1v1h-1zM332 223h1v1h-1zM342 223h1v1h-1zM352 223h1v1h-1zM362 223h1v1h-1zM382 223h1v1h-1zM392 223h1v1h-1zM402 223h1v1h-1zM412 223h1v1h-1zM432 223h1v1h-1zM442 223h1v1h-1zM452 223h1v1h-1zM462 223h1v1h-1zM482 223h1v1h-1zM492 223h1v1h-1zM502 223h1v1h-1zM512 223h1v1h-1zM21 224h1v1h-1zM72 224h1v1h-1zM122 224h1v1h-1zM172 224h1v1h-1zM222 224h1v1h-1zM272 224h1v1h-1zM322 224h1v1h-1zM372 224h1v1h-1zM422 224h1v1h-1zM472 224h1v1h-1zM522 224h1v1h-1zM21 226h1v1h-1zM72 226h1v1h-1zM122 226h1v1h-1zM172 226h1v1h-1zM222 226h1v1h-1zM272 226h1v1h-1zM322 226h1v1h-1zM372 226h1v1h-1zM422 226h1v1h-1zM472 226h1v1h-1zM522 226h1v1h-1zM21 228h1v1h-1zM272 228h1v1h-1zM522 228h1v1h-1zM21 230h2v1h-2zM24 230h1v1h-1zM72 230h1v1h-1zM122 230h1v1h-1zM172 230h1v1h-1zM222 230h1v1h-1zM269 230h1v1h-1zM271 230h3v1h-3zM275 230h1v1h-1zM322 230h1v1h-1zM372 230h1v1h-1zM422 230h1v1h-1zM472 230h1v1h-1zM519 230h1v1h-1zM521 230h2v1h-2zM21 232h1v1h-1zM272 232h1v1h-1zM522 232h1v1h-1zM21 234h1v1h-1zM272 234h1v1h-1zM522 234h1v1h-1zM21 236h1v1h-1zM272 236h1v1h-1zM522 236h1v1h-1zM21 238h1v1h-1zM272 238h1v1h-1zM522 238h1v1h-1zM21 240h2v1h-2zM24 240h1v1h-1zM72 240h1v1h-1zM122 240h1v1h-1zM172 240h1v1h-1zM222 240h1v1h-1zM269 240h1v1h-1zM271 240h3v1h-3zM275 240h1v1h-1zM322 240h1v1h-1zM372 240h1v1h-1zM422 240h1v1h-1zM472 240h1v1h-1zM519 240h1v1h-1zM521 240h2v1h-2zM21 242h1v1h-1zM272 242h1v1h-1zM522 242h1v1h-1zM21 244h1v1h-1zM272 244h1v1h-1zM522 244h1v1h-1zM21 246h1v1h-1zM272 246h1v1h-1zM522 246h1v1h-1zM21 248h1v1h-1zM272 248h1v1h-1zM522 248h1v1h-1zM21 250h2v1h-2zM24 250h1v1h-1zM72 250h1v1h-1zM122 250h1v1h-1zM172 250h1v1h-1zM222 250h1v1h-1zM269 250h1v1h-1zM271 250h3v1h-3zM275 250h1v1h-1zM322 250h1v1h-1zM372 250h1v1h-1zM422 250h1v1h-1zM472 250h1v1h-1zM519 250h1v1h-1zM521 250h2v1h-2zM21 252h1v1h-1zM272 252h1v1h-1zM522 252h1v1h-1zM21 254h1v1h-1zM272 254h1v1h-1zM522 254h1v1h-1zM21 256h1v1h-1zM272 256h1v1h-1zM522 256h1v1h-1zM21 258h1v1h-1zM272 258h1v1h-1zM522 258h1v1h-1zM21 260h2v1h-2zM24 260h1v1h-1zM72 260h1v1h-1zM122 260h1v1h-1zM172 260h1v1h-1zM222 260h1v1h-1zM269 260h1v1h-1zM271 260h3v1h-3zM275 260h1v1h-1zM322 260h1v1h-1zM372 260h1v1h-1zM422 260h1v1h-1zM472 260h1v1h-1zM519 260h1v1h-1zM521 260h2v1h-2zM21 262h1v1h-1zM272 262h1v1h-1zM522 262h1v1h-1zM21 264h1v1h-1zM272 264h1v1h-1zM522 264h1v1h-1zM21 266h1v1h-1zM272 266h1v1h-1zM522 266h1v1h-1zM21 268h1v1h-1zM272 268h1v1h-1zM522 268h1v1h-1zM21 270h1v1h-1zM23 270h1v1h-1zM25 270h1v1h-1zM27 270h1v1h-1zM32 270h1v1h-1zM42 270h1v1h-1zM52 270h1v1h-1zM62 270h1v1h-1zM72 270h1v1h-1zM82 270h1v1h-1zM92 270h1v1h-1zM102 270h1v1h-1zM112 270h1v1h-1zM122 270h1v1h-1zM132 270h1v1h-1zM142 270h1v1h-1zM152 270h1v1h-1zM162 270h1v1h-1zM172 270h1v1h-1zM182 270h1v1h-1zM192 270h1v1h-1zM202 270h1v1h-1zM212 270h1v1h-1zM222 270h1v1h-1zM232 270h1v1h-1zM242 270h1v1h-1zM252 270h1v1h-1zM262 270h1v1h-1zM266 270h1v1h-1zM268 270h1v1h-1zM270 270h1v1h-1zM272 270h1v1h-1zM274 270h1v1h-1zM276 270h1v1h-1zM278 270h1v1h-1zM282 270h1v1h-1zM292 270h1v1h-1zM302 270h1v1h-1zM312 270h1v1h-1zM322 270h1v1h-1zM332 270h1v1h-1zM342 270h1v1h-1zM352 270h1v1h-1zM362 270h1v1h-1zM372 270h1v1h-1zM382 270h1v1h-1zM392 270h1v1h-1zM402 270h1v1h-1zM412 270h1v1h-1zM422 270h1v1h-1zM432 270h1v1h-1zM442 270h1v1h-1zM452 270h1v1h-1zM462 270h1v1h-1zM472 270h1v1h-1zM482 270h1v1h-1zM492 270h1v1h-1zM502 270h1v1h-1zM512 270h1v1h-1zM516 270h1v1h-1zM518 270h1v1h-1zM520 270h1v1h-1zM522 270h1v1h-1zM21 272h1v1h-1zM272 272h1v1h-1zM522 272h1v1h-1zM21 274h1v1h-1zM272 274h1v1h-1zM522 274h1v1h-1zM21 276h1v1h-1zM272 276h1v1h-1zM522 276h1v1h-1zM21 278h1v1h-1zM272 278h1v1h-1zM522 278h1v1h-1zM21 280h2v1h-2zM24 280h1v1h-1zM72 280h1v1h-1zM122 280h1v1h-1zM172 280h1v1h-1zM222 280h1v1h-1zM269 280h1v1h-1zM271 280h3v1h-3zM275 280h1v1h-1zM322 280h1v1h-1zM372 280h1v1h-1zM422 280h1v1h-1zM472 280h1v1h-1zM519 280h1v1h-1zM521 280h2v1h-2zM21 282h1v1h-1zM272 282h1v1h-1zM522 282h1v1h-1zM21 284h1v1h-1zM272 284h1v1h-1zM522 284h1v1h-1zM21 286h1v1h-1zM272 286h1v1h-1zM522 286h1v1h-1zM21 288h1v1h-1zM272 288h1v1h-1zM522 288h1v1h-1zM21 290h2v1h-2zM24 290h1v1h-1zM72 290h1v1h-1zM122 290h1v1h-1zM172 290h1v1h-1zM222 290h1v1h-1zM269 290h1v1h-1zM271 290h3v1h-3zM275 290h1v1h-1zM322 290h1v1h-1zM372 290h1v1h-1zM422 290h1v1h-1zM472 290h1v1h-1zM519 290h1v1h-1zM521 290h2v1h-2zM21 292h1v1h-1zM272 292h1v1h-1zM522 292h1v1h-1zM21 294h1v1h-1zM272 294h1v1h-1zM522 294h1v1h-1zM21 296h1v1h-1zM272 296h1v1h-1zM522 296h1v1h-1zM21 298h1v1h-1zM272 298h1v1h-1zM522 298h1v1h-1zM21 300h2v1h-2zM24 300h1v1h-1zM72 300h1v1h-1zM122 300h1v1h-1zM172 300h1v1h-1zM222 300h1v1h-1zM269 300h1v1h-1zM271 300h3v1h-3zM275 300h1v1h-1zM322 300h1v1h-1zM372 300h1v1h-1zM422 300h1v1h-1zM472 300h1v1h-1zM519 300h1v1h-1zM521 300h2v1h-2zM21 302h1v1h-1zM272 302h1v1h-1zM522 302h1v1h-1zM21 304h1v1h-1zM272 304h1v1h-1zM522 304h1v1h-1zM21 306h1v1h-1zM272 306h1v1h-1zM522 306h1v1h-1zM21 308h1v1h-1zM272 308h1v1h-1zM522 308h1v1h-1zM21 310h2v1h-2zM24 310h1v1h-1zM72 310h1v1h-1zM122 310h1v1h-1zM172 310h1v1h-1zM222 310h1v1h-1zM269 310h1v1h-1zM271 310h3v1h-3zM275 310h1v1h-1zM322 310h1v1h-1zM372 310h1v1h-1zM422 310h1v1h-1zM472 310h1v1h-1zM519 310h1v1h-1zM521 310h2v1h-2zM21 312h1v1h-1zM272 312h1v1h-1zM522 312h1v1h-1zM21 314h1v1h-1zM272 314h1v1h-1zM522 314h1v1h-1zM21 316h1v1h-1zM272 316h1v1h-1zM522 316h1v1h-1zM21 318h1v1h-1zM272 318h1v1h-1zM522 318h1v1h-1zM21 320h1v1h-1zM23 320h1v1h-1zM25 320h1v1h-1zM27 320h1v1h-1zM32 320h1v1h-1zM42 320h1v1h-1zM52 320h1v1h-1zM62 320h1v1h-1zM72 320h1v1h-1zM82 320h1v1h-1zM92 320h1v1h-1zM102 320h1v1h-1zM112 320h1v1h-1zM122 320h1v1h-1zM132 320h1v1h-1zM142 320h1v1h-1zM152 320h1v1h-1zM162 320h1v1h-1zM172 320h1v1h-1zM182 320h1v1h-1zM192 320h1v1h-1zM202 320h1v1h-1zM212 320h1v1h-1zM222 320h1v1h-1zM232 320h1v1h-1zM242 320h1v1h-1zM252 320h1v1h-1zM262 320h1v1h-1zM266 320h1v1h-1zM268 320h1v1h-1zM270 320h1v1h-1zM272 320h1v1h-1zM274 320h1v1h-1zM276 320h1v1h-1zM278 320h1v1h-1zM282 320h1v1h-1zM292 320h1v1h-1zM302 320h1v1h-1zM312 320h1v1h-1zM322 320h1v1h-1zM332 320h1v1h-1zM342 320h1v1h-1zM352 320h1v1h-1zM362 320h1v1h-1zM372 320h1v1h-1zM382 320h1v1h-1zM392 320h1v1h-1zM402 320h1v1h-1zM412 320h1v1h-1zM422 320h1v1h-1zM432 320h1v1h-1zM442 320h1v1h-1zM452 320h1v1h-1zM462 320h1v1h-1zM472 320h1v1h-1zM482 320h1v1h-1zM492 320h1v1h-1zM502 320h1v1h-1zM512 320h1v1h-1zM516 320h1v1h-1zM518 320h1v1h-1zM520 320h1v1h-1zM522 320h1v1h-1zM21 322h1v1h-1zM272 322h1v1h-1zM522 322h1v1h-1zM21 324h1v1h-1zM272 324h1v1h-1zM522 324h1v1h-1zM21 326h1v1h-1zM272 326h1v1h-1zM522 326h1v1h-1zM21 328h1v1h-1zM272 328h1v1h-1zM522 328h1v1h-1zM21 330h2v1h-2zM24 330h1v1h-1zM72 330h1v1h-1zM122 330h1v1h-1zM172 330h1v1h-1zM222 330h1v1h-1zM269 330h1v1h-1zM271 330h3v1h-3zM275 330h1v1h-1zM322 330h1v1h-1zM372 330h1v1h-1zM422 330h1v1h-1zM472 330h1v1h-1zM519 330h1v1h-1zM521 330h2v1h-2zM21 332h1v1h-1zM272 332h1v1h-1zM522 332h1v1h-1zM21 334h1v1h-1zM272 334h1v1h-1zM522 334h1v1h-1zM21 336h1v1h-1zM272 336h1v1h-1zM522 336h1v1h-1zM21 338h1v1h-1zM272 338h1v1h-1zM522 338h1v1h-1zM21 340h2v1h-2zM24 340h1v1h-1zM72 340h1v1h-1zM122 340h1v1h-1zM172 340h1v1h-1zM222 340h1v1h-1zM269 340h1v1h-1zM271 340h3v1h-3zM275 340h1v1h-1zM322 340h1v1h-1zM372 340h1v1h-1zM422 340h1v1h-1zM472 340h1v1h-1zM519 340h1v1h-1zM521 340h2v1h-2zM21 342h1v1h-1zM272 342h1v1h-1zM522 342h1v1h-1zM21 344h1v1h-1zM272 344h1v1h-1zM522 344h1v1h-1zM21 346h1v1h-1zM272 346h1v1h-1zM522 346h1v1h-1zM21 348h1v1h-1zM272 348h1v1h-1zM522 348h1v1h-1zM21 350h2v1h-2zM24 350h1v1h-1zM72 350h1v1h-1zM122 350h1v1h-1zM172 350h1v1h-1zM222 350h1v1h-1zM269 350h1v1h-1zM271 350h3v1h-3zM275 350h1v1h-1zM322 350h1v1h-1zM372 350h1v1h-1zM422 350h1v1h-1zM472 350h1v1h-1zM519 350h1v1h-1zM521 350h2v1h-2zM21 352h1v1h-1zM272 352h1v1h-1zM522 352h1v1h-1zM21 354h1v1h-1zM272 354h1v1h-1zM522 354h1v1h-1zM21 356h1v1h-1zM272 356h1v1h-1zM522 356h1v1h-1zM21 358h1v1h-1zM272 358h1v1h-1zM522 358h1v1h-1zM21 360h2v1h-2zM24 360h1v1h-1zM72 360h1v1h-1zM122 360h1v1h-1zM172 360h1v1h-1zM222 360h1v1h-1zM269 360h1v1h-1zM271 360h3v1h-3zM275 360h1v1h-1zM322 360h1v1h-1zM372 360h1v1h-1zM422 360h1v1h-1zM472 360h1v1h-1zM519 360h1v1h-1zM521 360h2v1h-2zM21 362h1v1h-1zM272 362h1v1h-1zM522 362h1v1h-1zM21 364h1v1h-1zM272 364h1v1h-1zM522 364h1v1h-1zM21 366h1v1h-1zM272 366h1v1h-1zM522 366h1v1h-1zM21 368h1v1h-1zM272 368h1v1h-1zM522 368h1v1h-1zM21 370h1v1h-1zM23 370h1v1h-1zM25 370h1v1h-1zM27 370h1v1h-1zM32 370h1v1h-1zM42 370h1v1h-1zM52 370h1v1h-1zM62 370h1v1h-1zM72 370h1v1h-1zM82 370h1v1h-1zM92 370h1v1h-1zM102 370h1v1h-1zM112 370h1v1h-1zM122 370h1v1h-1zM132 370h1v1h-1zM142 370h1v1h-1zM152 370h1v1h-1zM162 370h1v1h-1zM172 370h1v1h-1zM182 370h1v1h-1zM192 370h1v1h-1zM202 370h1v1h-1zM212 370h1v1h-1zM222 370h1v1h-1zM232 370h1v1h-1zM242 370h1v1h-1zM252 370h1v1h-1zM262 370h1v1h-1zM266 370h1v1h-1zM268 370h1v1h-1zM270 370h1v1h-1zM272 370h1v1h-1zM274 370h1v1h-1zM276 370h1v1h-1zM278 370h1v1h-1zM282 370h1v1h-1zM292 370h1v1h-1zM302 370h1v1h-1zM312 370h1v1h-1zM322 370h1v1h-1zM332 370h1v1h-1zM342 370h1v1h-1zM352 370h1v1h-1zM362 370h1v1h-1zM372 370h1v1h-1zM382 370h1v1h-1zM392 370h1v1h-1zM402 370h1v1h-1zM412 370h1v1h-1zM422 370h1v1h-1zM432 370h1v1h-1zM442 370h1v1h-1zM452 370h1v1h-1zM462 370h1v1h-1zM472 370h1v1h-1zM482 370h1v1h-1zM492 370h1v1h-1zM502 370h1v1h-1zM512 370h1v1h-1zM516 370h1v1h-1zM518 370h1v1h-1zM520 370h1v1h-1zM522 370h1v1h-1zM21 372h1v1h-1zM272 372h1v1h-1zM522 372h1v1h-1zM21 374h1v1h-1zM272 374h1v1h-1zM522 374h1v1h-1zM21 376h1v1h-1zM272 376h1v1h-1zM522 376h1v1h-1zM21 378h1v1h-1zM272 378h1v1h-1zM522 378h1v1h-1zM21 380h2v1h-2zM24 380h1v1h-1zM72 380h1v1h-1zM122 380h1v1h-1zM172 380h1v1h-1zM222 380h1v1h-1zM269 380h1v1h-1zM271 380h3v1h-3zM275 380h1v1h-1zM322 380h1v1h-1zM372 380h1v1h-1zM422 380h1v1h-1zM472 380h1v1h-1zM519 380h1v1h-1zM521 380h2v1h-2zM21 382h1v1h-1zM272 382h1v1h-1zM522 382h1v1h-1zM21 384h1v1h-1zM272 384h1v1h-1zM522 384h1v1h-1zM21 386h1v1h-1zM272 386h1v1h-1zM522 386h1v1h-1zM21 388h1v1h-1zM272 388h1v1h-1zM522 388h1v1h-1zM21 390h2v1h-2zM24 390h1v1h-1zM72 390h1v1h-1zM122 390h1v1h-1zM172 390h1v1h-1zM222 390h1v1h-1zM269 390h1v1h-1zM271 390h3v1h-3zM275 390h1v1h-1zM322 390h1v1h-1zM372 390h1v1h-1zM422 390h1v1h-1zM472 390h1v1h-1zM519 390h1v1h-1zM521 390h2v1h-2zM21 392h1v1h-1zM272 392h1v1h-1zM522 392h1v1h-1zM21 394h1v1h-1zM272 394h1v1h-1zM522 394h1v1h-1zM21 396h1v1h-1zM272 396h1v1h-1zM522 396h1v1h-1zM21 398h1v1h-1zM272 398h1v1h-1zM522 398h1v1h-1zM21 400h2v1h-2zM24 400h1v1h-1zM72 400h1v1h-1zM122 400h1v1h-1zM172 400h1v1h-1zM222 400h1v1h-1zM269 400h1v1h-1zM271 400h3v1h-3zM275 400h1v1h-1zM322 400h1v1h-1zM372 400h1v1h-1zM422 400h1v1h-1zM472 400h1v1h-1zM519 400h1v1h-1zM521 400h2v1h-2zM21 402h1v1h-1zM272 402h1v1h-1zM522 402h1v1h-1zM21 404h1v1h-1zM272 404h1v1h-1zM522 404h1v1h-1zM21 406h1v1h-1zM272 406h1v1h-1zM522 406h1v1h-1zM21 408h1v1h-1zM272 408h1v1h-1zM522 408h1v1h-1zM21 410h2v1h-2zM24 410h1v1h-1zM72 410h1v1h-1zM122 410h1v1h-1zM172 410h1v1h-1zM222 410h1v1h-1zM269 410h1v1h-1zM271 410h3v1h-3zM275 410h1v1h-1zM322 410h1v1h-1zM372 410h1v1h-1zM422 410h1v1h-1zM472 410h1v1h-1zM519 410h1v1h-1zM521 410h2v1h-2zM21 412h1v1h-1zM272 412h1v1h-1zM522 412h1v1h-1zM21 414h1v1h-1zM272 414h1v1h-1zM522 414h1v1h-1zM72 415h1v1h-1zM122 415h1v1h-1zM172 415h1v1h-1zM222 415h1v1h-1zM272 415h1v1h-1zM322 415h1v1h-1zM372 415h1v1h-1zM422 415h1v1h-1zM472 415h1v1h-1zM21 416h1v1h-1zM272 416h1v1h-1zM522 416h1v1h-1zM72 417h1v1h-1zM122 417h1v1h-1zM172 417h1v1h-1zM222 417h1v1h-1zM272 417h1v1h-1zM322 417h1v1h-1zM372 417h1v1h-1zM422 417h1v1h-1zM472 417h1v1h-1zM21 418h1v1h-1zM32 418h1v1h-1zM42 418h1v1h-1zM52 418h1v1h-1zM62 418h1v1h-1zM82 418h1v1h-1zM92 418h1v1h-1zM102 418h1v1h-1zM112 418h1v1h-1zM132 418h1v1h-1zM142 418h1v1h-1zM152 418h1v1h-1zM162 418h1v1h-1zM182 418h1v1h-1zM192 418h1v1h-1zM202 418h1v1h-1zM212 418h1v1h-1zM232 418h1v1h-1zM242 418h1v1h-1zM252 418h1v1h-1zM262 418h1v1h-1zM272 418h1v1h-1zM282 418h1v1h-1zM292 418h1v1h-1zM302 418h1v1h-1zM312 418h1v1h-1zM332 418h1v1h-1zM342 418h1v1h-1zM352 418h1v1h-1zM362 418h1v1h-1zM382 418h1v1h-1zM392 418h1v1h-1zM402 418h1v1h-1zM412 418h1v1h-1zM432 418h1v1h-1zM442 418h1v1h-1zM452 418h1v1h-1zM462 418h1v1h-1zM482 418h1v1h-1zM492 418h1v1h-1zM502 418h1v1h-1zM512 418h1v1h-1zM522 418h1v1h-1zM72 419h1v1h-1zM122 419h1v1h-1zM172 419h1v1h-1zM222 419h1v1h-1zM272 419h1v1h-1zM322 419h1v1h-1zM372 419h1v1h-1zM422 419h1v1h-1zM472 419h1v1h-1zM21 420h1v1h-1zM32 420h1v1h-1zM42 420h1v1h-1zM52 420h1v1h-1zM62 420h1v1h-1zM82 420h1v1h-1zM92 420h1v1h-1zM102 420h1v1h-1zM112 420h1v1h-1zM132 420h1v1h-1zM142 420h1v1h-1zM152 420h1v1h-1zM162 420h1v1h-1zM182 420h1v1h-1zM192 420h1v1h-1zM202 420h1v1h-1zM212 420h1v1h-1zM232 420h1v1h-1zM242 420h1v1h-1zM252 420h1v1h-1zM262 420h1v1h-1zM272 420h1v1h-1zM282 420h1v1h-1zM292 420h1v1h-1zM302 420h1v1h-1zM312 420h1v1h-1zM332 420h1v1h-1zM342 420h1v1h-1zM352 420h1v1h-1zM362 420h1v1h-1zM382 420h1v1h-1zM392 420h1v1h-1zM402 420h1v1h-1zM412 420h1v1h-1zM432 420h1v1h-1zM442 420h1v1h-1zM452 420h1v1h-1zM462 420h1v1h-1zM482 420h1v1h-1zM492 420h1v1h-1zM502 420h1v1h-1zM512 420h1v1h-1zM522 420h1v1h-1zM21 421h2v1h-2zM24 421h1v1h-1zM26 421h1v1h-1zM28 421h1v1h-1zM30 421h1v1h-1zM32 421h1v1h-1zM34 421h1v1h-1zM36 421h1v1h-1zM38 421h1v1h-1zM40 421h1v1h-1zM42 421h1v1h-1zM44 421h1v1h-1zM46 421h1v1h-1zM48 421h1v1h-1zM50 421h1v1h-1zM52 421h1v1h-1zM54 421h1v1h-1zM56 421h1v1h-1zM58 421h1v1h-1zM60 421h1v1h-1zM62 421h1v1h-1zM64 421h1v1h-1zM66 421h1v1h-1zM68 421h1v1h-1zM70 421h1v1h-1zM72 421h1v1h-1zM74 421h1v1h-1zM76 421h1v1h-1zM78 421h1v1h-1zM80 421h1v1h-1zM82 421h1v1h-1zM84 421h1v1h-1zM86 421h1v1h-1zM88 421h1v1h-1zM90 421h1v1h-1zM92 421h1v1h-1zM94 421h1v1h-1zM96 421h1v1h-1zM98 421h1v1h-1zM100 421h1v1h-1zM102 421h1v1h-1zM104 421h1v1h-1zM106 421h1v1h-1zM108 421h1v1h-1zM110 421h1v1h-1zM112 421h1v1h-1zM114 421h1v1h-1zM116 421h1v1h-1zM118 421h1v1h-1zM120 421h1v1h-1zM122 421h1v1h-1zM124 421h1v1h-1zM126 421h1v1h-1zM128 421h1v1h-1zM130 421h1v1h-1zM132 421h1v1h-1zM134 421h1v1h-1zM136 421h1v1h-1zM138 421h1v1h-1zM140 421h1v1h-1zM142 421h1v1h-1zM144 421h1v1h-1zM146 421h1v1h-1zM148 421h1v1h-1zM150 421h1v1h-1zM152 421h1v1h-1zM154 421h1v1h-1zM156 421h1v1h-1zM158 421h1v1h-1zM160 421h1v1h-1zM162 421h1v1h-1zM164 421h1v1h-1zM166 421h1v1h-1zM168 421h1v1h-1zM170 421h1v1h-1zM172 421h1v1h-1zM174 421h1v1h-1zM176 421h1v1h-1zM178 421h1v1h-1zM180 421h1v1h-1zM182 421h1v1h-1zM184 421h1v1h-1zM186 421h1v1h-1zM188 421h1v1h-1zM190 421h1v1h-1zM192 421h1v1h-1zM194 421h1v1h-1zM196 421h1v1h-1zM198 421h1v1h-1zM200 421h1v1h-1zM202 421h1v1h-1zM204 421h1v1h-1zM206 421h1v1h-1zM208 421h1v1h-1zM210 421h1v1h-1zM212 421h1v1h-1zM214 421h1v1h-1zM216 421h1v1h-1zM218 421h1v1h-1zM220 421h1v1h-1zM222 421h1v1h-1zM224 421h1v1h-1zM226 421h1v1h-1zM228 421h1v1h-1zM230 421h1v1h-1zM232 421h1v1h-1zM234 421h1v1h-1zM236 421h1v1h-1zM238 421h1v1h-1zM240 421h1v1h-1zM242 421h1v1h-1zM244 421h1v1h-1zM246 421h1v1h-1zM248 421h1v1h-1zM250 421h1v1h-1zM252 421h1v1h-1zM254 421h1v1h-1zM256 421h1v1h-1zM258 421h1v1h-1zM260 421h1v1h-1zM262 421h1v1h-1zM264 421h1v1h-1zM266 421h1v1h-1zM268 421h1v1h-1zM270 421h1v1h-1zM272 421h1v1h-1zM274 421h1v1h-1zM276 421h1v1h-1zM278 421h1v1h-1zM280 421h1v1h-1zM282 421h1v1h-1zM284 421h1v1h-1zM286 421h1v1h-1zM288 421h1v1h-1zM290 421h1v1h-1zM292 421h1v1h-1zM294 421h1v1h-1zM296 421h1v1h-1zM298 421h1v1h-1zM300 421h1v1h-1zM302 421h1v1h-1zM304 421h1v1h-1zM306 421h1v1h-1zM308 421h1v1h-1zM310 421h1v1h-1zM312 421h1v1h-1zM314 421h1v1h-1zM316 421h1v1h-1zM318 421h1v1h-1zM320 421h1v1h-1zM322 421h1v1h-1zM324 421h1v1h-1zM326 421h1v1h-1zM328 421h1v1h-1zM330 421h1v1h-1zM332 421h1v1h-1zM334 421h1v1h-1zM336 421h1v1h-1zM338 421h1v1h-1zM340 421h1v1h-1zM342 421h1v1h-1zM344 421h1v1h-1zM346 421h1v1h-1zM348 421h1v1h-1zM350 421h1v1h-1zM352 421h1v1h-1zM354 421h1v1h-1zM356 421h1v1h-1zM358 421h1v1h-1zM360 421h1v1h-1zM362 421h1v1h-1zM364 421h1v1h-1zM366 421h1v1h-1zM368 421h1v1h-1zM370 421h1v1h-1zM372 421h1v1h-1zM374 421h1v1h-1zM376 421h1v1h-1zM378 421h1v1h-1zM380 421h1v1h-1zM382 421h1v1h-1zM384 421h1v1h-1zM386 421h1v1h-1zM388 421h1v1h-1zM390 421h1v1h-1zM392 421h1v1h-1zM394 421h1v1h-1zM396 421h1v1h-1zM398 421h1v1h-1zM400 421h1v1h-1zM402 421h1v1h-1zM404 421h1v1h-1zM406 421h1v1h-1zM408 421h1v1h-1zM410 421h1v1h-1zM412 421h1v1h-1zM414 421h1v1h-1zM416 421h1v1h-1zM418 421h1v1h-1zM420 421h1v1h-1zM422 421h1v1h-1zM424 421h1v1h-1zM426 421h1v1h-1zM428 421h1v1h-1zM430 421h1v1h-1zM432 421h1v1h-1zM434 421h1v1h-1zM436 421h1v1h-1zM438 421h1v1h-1zM440 421h1v1h-1zM442 421h1v1h-1zM444 421h1v1h-1zM446 421h1v1h-1zM448 421h1v1h-1zM450 421h1v1h-1zM452 421h1v1h-1zM454 421h1v1h-1zM456 421h1v1h-1zM458 421h1v1h-1zM460 421h1v1h-1zM462 421h1v1h-1zM464 421h1v1h-1zM466 421h1v1h-1zM468 421h1v1h-1zM470 421h1v1h-1zM472 421h1v1h-1zM474 421h1v1h-1zM476 421h1v1h-1zM478 421h1v1h-1zM480 421h1v1h-1zM482 421h1v1h-1zM484 421h1v1h-1zM486 421h1v1h-1zM488 421h1v1h-1zM490 421h1v1h-1zM492 421h1v1h-1zM494 421h1v1h-1zM496 421h1v1h-1zM498 421h1v1h-1zM500 421h1v1h-1zM502 421h1v1h-1zM504 421h1v1h-1zM506 421h1v1h-1zM508 421h1v1h-1zM510 421h1v1h-1zM512 421h1v1h-1zM514 421h1v1h-1zM516 421h1v1h-1zM518 421h1v1h-1zM520 421h1v1h-1zM522 421h1v1h-1z" fill="#000"/>
<rect x="92" y="0" width="1" height="16" fill="#a0a0a0"/>
<rect x="451" y="0" width="1" height="16" fill="#c0c0c0"/>
<path d="M167.5 1.5H164.5V15.5H167.5" fill="none" stroke="#201020"/>
<rect x="165" y="8" width="213" height="1" fill="#463040"/>
<path d="M376.5 1.5H378.5V15.5H376.5" fill="none" stroke="#201020"/>
<rect x="304" y="1" width="1" height="15" fill="#463040"/>
<rect x="319" y="3" width="1" height="4" fill="#463040"/>
<rect x="319" y="11" width="1" height="4" fill="#463040"/>
<g shape-rendering="auto">
<path d="M183 0.5H190L186.5 4.5Z" fill="#e8962c"/>
<path d="M182 5.5H190.5V14Q190.5 15.6 189 15.6H183.5Q182 15.6 182 14Z" fill="#e8761c"/>
<rect x="183" y="6" width="6.5" height="2.5" fill="#fff0b0"/>
<rect x="185.2" y="8" width="2.3" height="7.5" fill="#fff0b0"/>
<path d="M68 20H77.5L72.5 25.5Z" fill="#f07010"/>
<path d="M67 27H79V38L73 42.5L67 38Z" fill="#f07010"/>
<rect x="68" y="28" width="10" height="2.5" fill="#fff"/>
<rect x="71.7" y="30" width="2.8" height="9" fill="#fff"/>
</g>

<rect x="344" y="20" width="1" height="401" fill="#583c64"/>
<line x1="379.5" y1="22" x2="379.5" y2="421" stroke="#403040" stroke-width="1" stroke-dasharray="4 4"/>
<rect x="338" y="330" width="14" height="1" fill="#503050"/>
<rect x="372" y="282" width="15" height="1" fill="#503050"/>
<g shape-rendering="auto">
<path d="M511 310.5L517 305V316Z" fill="#8a1a8a"/>
</g>
<rect x="517" y="310" width="5" height="1" fill="#5a1a68"/>
<g shape-rendering="auto">
<path d="M0.5 158.5H12.5L20 166L13 173.5" fill="none" stroke="#141450" stroke-width="1"/>
<rect x="0" y="158" width="1.5" height="16" fill="#141450"/>
<path d="M1 174.5H13" stroke="#141450" stroke-dasharray="1 1" />
<path d="M6 164.5L8.5 162V171.8" fill="none" stroke="#141450" stroke-width="2.2"/>
<path d="M0.5 263.5H12.5L20 271L13 278.5" fill="none" stroke="#207070" stroke-width="1"/>
<rect x="0" y="263" width="1.5" height="16" fill="#208060"/>
<path d="M1 279.5H13" stroke="#207070" stroke-dasharray="1 1" />
<path d="M0 365H12L20 373L12 381.5H0Z" fill="#880c92"/>
<path d="M531.8 32.2L537.2 22.8L542.8 32.2Z" fill="none" stroke="#5a1464" stroke-width="1.6"/>
<path d="M531.8 72.2L537.2 62.8L542.8 72.2Z" fill="none" stroke="#5a1464" stroke-width="1.6"/>
<path d="M440 437H444L447 429H451" fill="none" stroke="#000" stroke-width="2"/>
</g>
<g shape-rendering="auto">
<rect x="286" y="464" width="12" height="13" rx="2" fill="#f07010"/>
<rect x="287" y="464" width="10" height="2.5" fill="#fff0c0"/>
<rect x="290.3" y="466" width="3" height="10" fill="#fff0c0"/>
</g>
</svg>
<div style="position:absolute;left:19px;top:444px;width:32px;height:16px;background:#880c92"></div>
<div style="position:absolute;left:51px;top:424px;width:99px;height:18px;border:1px solid #8c8c8c"></div>
<div style="position:absolute;left:51px;top:443px;width:99px;height:18px;border:1px solid #8c8c8c"></div>
<div style="position:absolute;left:183px;top:424px;width:99px;height:18px;border:1px solid #8c8c8c"></div>
<div style="position:absolute;left:297px;top:424px;width:60px;height:18px;border:1px solid #8c8c8c"></div>
<div style="position:absolute;left:384px;top:424px;width:141px;height:19px;border-left:1px solid #8c8c8c;border-bottom:1px solid #8c8c8c;border-right:1px solid #8c8c8c"></div>
<div style="position:absolute;left:302px;top:462px;width:75px;height:18px;border:1px solid #808080;border-bottom:none"></div>
<div class="t" style="left:0px;top:-2px;font-family:'Liberation Serif',serif;font-weight:bold;-webkit-text-stroke-width:0.5px;font-size:20px;letter-spacing:-0.5px;color:#000;">Tek</div>
<div class="t" style="left:35px;top:-1px;font-family:'Liberation Sans',sans-serif;font-size:15px;letter-spacing:1.5px;color:#000;">PreVu</div>
<div class="t" style="left:568px;top:21px;font-family:'Liberation Sans',sans-serif;font-size:16px;letter-spacing:1.2px;color:#5a1464;">9.60mV</div>
<div class="t" style="left:569px;top:37px;font-family:'Liberation Sans',sans-serif;font-size:16px;letter-spacing:1.0px;color:#5a1464;">8.60mV</div>
<div class="t" style="left:569px;top:61px;font-family:'Liberation Sans',sans-serif;font-size:16px;letter-spacing:1.0px;color:#5a1464;">2.80ms</div>
<div class="t" style="left:569px;top:77px;font-family:'Liberation Sans',sans-serif;font-size:16px;letter-spacing:1.2px;color:#5a1464;">21.7ms</div>
<div class="t" style="left:19px;top:425px;font-family:'Liberation Sans',sans-serif;font-size:16px;letter-spacing:0.0px;color:#141450;">Ch1</div>
<div class="t" style="left:69px;top:426px;font-family:'Liberation Sans',sans-serif;font-size:16px;letter-spacing:0.8px;color:#141450;">2.00 V</div>
<div class="t" style="left:151px;top:425px;font-family:'Liberation Sans',sans-serif;font-size:16px;letter-spacing:1.0px;color:#22867c;">Ch2</div>
<div class="t" style="left:196px;top:426px;font-family:'Liberation Sans',sans-serif;font-size:16px;letter-spacing:1.0px;color:#22867c;">20.0mV</div>
<div class="t" style="left:299px;top:426px;font-family:'Liberation Sans',sans-serif;font-size:16px;letter-spacing:1.0px;color:#000;">4.00ms</div>
<div class="t" style="left:397px;top:425px;font-family:'Liberation Sans',sans-serif;font-size:16px;letter-spacing:1.0px;color:#5a2066;">Ch3</div>
<div class="t" style="left:465px;top:426px;font-family:'Liberation Sans',sans-serif;font-size:16px;letter-spacing:0.6px;color:#000;">12.6mV</div>
<div class="t" style="left:64px;top:445px;font-family:'Liberation Sans',sans-serif;font-size:16px;letter-spacing:1.0px;color:#70106c;">10.0mV</div>
<div class="t" style="left:538px;top:448px;font-family:'Liberation Sans',sans-serif;font-size:16px;letter-spacing:1.4px;color:#000;">15 Apr</div>
<div class="t" style="left:600px;top:448px;font-family:'Liberation Sans',sans-serif;font-size:16px;letter-spacing:1.0px;color:#000;">2008</div>
<div class="t" style="left:538px;top:464px;font-family:'Liberation Sans',sans-serif;font-size:16px;letter-spacing:1.14px;color:#000;">16:49:06</div>
<div class="t" style="left:304px;top:464px;font-family:'Liberation Sans',sans-serif;font-size:16px;letter-spacing:0.67px;color:#000;">10.20 %</div>

<div class="t" style="left:19px;top:446px;font-size:16px;letter-spacing:1px;color:#fff">Ch3</div>
<div class="t" style="left:283px;top:425px;font-size:16.5px;color:#000">M</div>
<div class="t" style="left:373px;top:425px;font-size:14px;color:#000">A</div>
<div class="t" style="left:546px;top:19px;font-size:17px;color:#5a1464">:</div>
<div class="t" style="left:546px;top:35px;font-size:17px;color:#5a1464">:</div>
<div class="t" style="left:546px;top:59px;font-size:17px;color:#5a1464">:</div>
<div class="t" style="left:546px;top:75px;font-size:17px;color:#5a1464">:</div>
<div class="t" style="left:531px;top:36px;font-size:13.5px;color:#5a1464">@</div>
<div class="t" style="left:531px;top:76px;font-size:13.5px;color:#5a1464">@</div>

<div class="t" style="left:5px;top:264px;font-size:14.5px;font-weight:bold;-webkit-text-stroke-width:0.2px;color:#1e6e6e">2</div>
<div class="t" style="left:5px;top:366px;font-size:14px;font-weight:bold;-webkit-text-stroke-width:0.2px;color:#fff">3</div>

</body></html>
